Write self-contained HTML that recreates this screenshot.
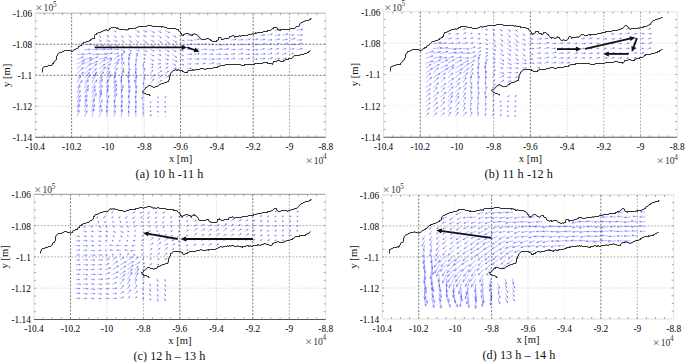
<!DOCTYPE html>
<html><head><meta charset="utf-8"><style>
html,body{margin:0;padding:0;background:#fff;width:685px;height:362px;overflow:hidden}
svg{display:block}
text{font-family:"Liberation Serif",serif}
</style></head><body>
<svg width="685" height="362" viewBox="0 0 685 362">
<rect width="685" height="362" fill="#fff"/>
<line x1="71.61" y1="13.2" x2="71.61" y2="137.3" stroke="#555" stroke-width="0.8" stroke-dasharray="2 1.6"/>
<line x1="107.92" y1="13.2" x2="107.92" y2="137.3" stroke="#d0d0d0" stroke-width="0.8" stroke-dasharray="1.5 1.5"/>
<line x1="144.24" y1="13.2" x2="144.24" y2="137.3" stroke="#d0d0d0" stroke-width="0.8" stroke-dasharray="1.5 1.5"/>
<line x1="180.55" y1="13.2" x2="180.55" y2="137.3" stroke="#555" stroke-width="0.8" stroke-dasharray="2 1.6"/>
<line x1="216.86" y1="13.2" x2="216.86" y2="137.3" stroke="#ececec" stroke-width="0.8" stroke-dasharray="1.5 1.5"/>
<line x1="253.18" y1="13.2" x2="253.18" y2="137.3" stroke="#555" stroke-width="0.8" stroke-dasharray="2 1.6"/>
<line x1="289.49" y1="13.2" x2="289.49" y2="137.3" stroke="#999" stroke-width="0.8" stroke-dasharray="1.8 1.6"/>
<line x1="35.3" y1="44.23" x2="325.8" y2="44.23" stroke="#555" stroke-width="0.8" stroke-dasharray="2 1.6"/>
<line x1="35.3" y1="75.25" x2="325.8" y2="75.25" stroke="#555" stroke-width="0.8" stroke-dasharray="2 1.6"/>
<line x1="35.3" y1="106.28" x2="325.8" y2="106.28" stroke="#d0d0d0" stroke-width="0.8" stroke-dasharray="1.5 1.5"/>
<line x1="35.3" y1="13.2" x2="325.8" y2="13.2" stroke="#ccc" stroke-width="1.6"/>
<line x1="35.3" y1="13.2" x2="35.3" y2="137.3" stroke="#e0e0e0" stroke-width="1"/>
<line x1="325.8" y1="13.2" x2="325.8" y2="137.3" stroke="#e6e6e6" stroke-width="1"/>
<line x1="35.3" y1="137.3" x2="325.8" y2="137.3" stroke="#555" stroke-width="1.1"/>
<path d="M44.38 13.2v2M44.38 137.3v-2M53.46 13.2v2M53.46 137.3v-2M62.53 13.2v2M62.53 137.3v-2M71.61 13.2v2M71.61 137.3v-2M80.69 13.2v2M80.69 137.3v-2M89.77 13.2v2M89.77 137.3v-2M98.85 13.2v2M98.85 137.3v-2M107.92 13.2v2M107.92 137.3v-2M117 13.2v2M117 137.3v-2M126.08 13.2v2M126.08 137.3v-2M135.16 13.2v2M135.16 137.3v-2M144.24 13.2v2M144.24 137.3v-2M153.32 13.2v2M153.32 137.3v-2M162.39 13.2v2M162.39 137.3v-2M171.47 13.2v2M171.47 137.3v-2M180.55 13.2v2M180.55 137.3v-2M189.63 13.2v2M189.63 137.3v-2M198.71 13.2v2M198.71 137.3v-2M207.78 13.2v2M207.78 137.3v-2M216.86 13.2v2M216.86 137.3v-2M225.94 13.2v2M225.94 137.3v-2M235.02 13.2v2M235.02 137.3v-2M244.1 13.2v2M244.1 137.3v-2M253.18 13.2v2M253.18 137.3v-2M262.25 13.2v2M262.25 137.3v-2M271.33 13.2v2M271.33 137.3v-2M280.41 13.2v2M280.41 137.3v-2M289.49 13.2v2M289.49 137.3v-2M298.57 13.2v2M298.57 137.3v-2M307.64 13.2v2M307.64 137.3v-2M316.72 13.2v2M316.72 137.3v-2M35.3 20.96h2M325.8 20.96h-2M35.3 28.71h2M325.8 28.71h-2M35.3 36.47h2M325.8 36.47h-2M35.3 44.23h2M325.8 44.23h-2M35.3 51.98h2M325.8 51.98h-2M35.3 59.74h2M325.8 59.74h-2M35.3 67.49h2M325.8 67.49h-2M35.3 75.25h2M325.8 75.25h-2M35.3 83.01h2M325.8 83.01h-2M35.3 90.76h2M325.8 90.76h-2M35.3 98.52h2M325.8 98.52h-2M35.3 106.28h2M325.8 106.28h-2M35.3 114.03h2M325.8 114.03h-2M35.3 121.79h2M325.8 121.79h-2M35.3 129.54h2M325.8 129.54h-2" stroke="#888" stroke-width="0.75" fill="none"/>
<path d="M77.3 116.4L79.11 110.32M78.12 111.56L79.11 110.32L79.26 111.9M77.3 111.63L79.25 104.61M78.14 106.06L79.25 104.61L79.46 106.42M77.3 106.86L80.17 99.51M78.82 100.94L80.17 99.51L80.19 101.48M77.3 102.09L80.3 95.44M78.98 96.7L80.3 95.44L80.23 97.26M77.3 97.32L80.23 90.63M78.93 91.9L80.23 90.63L80.18 92.45M77.3 92.55L79.87 85.64M78.63 87L79.87 85.64L79.92 87.48M77.3 87.78L82.16 80.45M80.35 81.7L82.16 80.45L81.72 82.61M77.3 83.01L80.65 76.01M79.21 77.32L80.65 76.01L80.53 77.94M77.3 78.24L83.54 72.22M81.53 73.03L83.54 72.22L82.66 74.2M77.3 73.47L83.19 67.54M81.27 68.36L83.19 67.54L82.38 69.46M77.3 68.7L83.89 62.47M81.78 63.29L83.89 62.47L82.94 64.53M77.3 63.93L84.64 59.95M82.57 60.19L84.64 59.95L83.31 61.56M77.3 59.16L83.23 56.98M81.65 56.93L83.23 56.98L82.06 58.04M77.3 54.39L83.85 54.09M82.31 53.54L83.85 54.09L82.36 54.77M84.63 116.4L86.96 110.82M85.9 111.9L86.96 110.82L86.94 112.33M84.63 111.63L87.1 104.69M85.88 106.07L87.1 104.69L87.17 106.53M84.63 106.86L86.73 99.25M85.53 100.82L86.73 99.25L86.95 101.21M84.63 102.09L86.92 95.31M85.76 96.67L86.92 95.31L87.03 97.1M84.63 97.32L88.21 88.86M86.59 90.49L88.21 88.86L88.17 91.16M84.63 92.55L88.33 85.4M86.8 86.71L88.33 85.4L88.14 87.4M84.63 87.78L88.27 79.89M86.69 81.38L88.27 79.89L88.16 82.06M84.63 83.01L89.96 74.97M87.98 76.33L89.96 74.97L89.48 77.33M84.63 78.24L89.34 72.51M87.71 73.4L89.34 72.51L88.79 74.28M84.63 73.47L90.96 68.55M89.03 69.1L90.96 68.55L89.95 70.28M84.63 68.7L90.96 63.46M89 64.08L90.96 63.46L89.98 65.27M84.63 63.93L91.85 59.4M89.76 59.78L91.85 59.4L90.6 61.13M84.63 59.16L91.37 57.74M89.67 57.44L91.37 57.74L89.94 58.7M84.63 54.39L90.59 53.41M89.12 53.08L90.59 53.41L89.3 54.19M84.63 49.62L90.13 49.37M88.83 48.91L90.13 49.37L88.88 49.94M84.63 44.85L91.47 44.4M89.84 43.87L91.47 44.4L89.92 45.15M91.96 116.4L93.93 108.97M92.78 110.51L93.93 108.97L94.17 110.88M91.96 111.63L94.45 104.65M93.22 106.03L94.45 104.65L94.53 106.5M91.96 106.86L94.52 99.33M93.22 100.84L94.52 99.33L94.63 101.32M91.96 102.09L96.31 93.54M94.5 95.12L96.31 93.54L96.1 95.93M91.96 97.32L95.33 89.44M93.81 90.95L95.33 89.44L95.29 91.59M91.96 92.55L95.16 86.06M93.81 87.27L95.16 86.06L95.03 87.87M91.96 87.78L96.94 79.87M95.04 81.24L96.94 79.87L96.52 82.17M91.96 83.01L95.75 73.97M94.02 75.71L95.75 73.97L95.72 76.42M91.96 78.24L96.73 72.08M95.05 73.06L96.73 72.08L96.2 73.96M91.96 73.47L96.36 68.55M94.88 69.28L96.36 68.55L95.8 70.1M91.96 68.7L96.59 63.9M95.07 64.58L96.59 63.9L95.97 65.45M91.96 63.93L97.51 61.42M95.99 61.48L97.51 61.42L96.45 62.52M91.96 59.16L97.68 57.07M96.16 57.02L97.68 57.07L96.55 58.09M91.96 54.39L98.51 54.2M96.97 53.63L98.51 54.2L97.01 54.85M91.96 49.62L97.42 49.39M96.13 48.93L97.42 49.39L96.18 49.96M91.96 44.85L97.81 45.42M96.51 44.74L97.81 45.42L96.4 45.83M99.29 116.4L102.14 109.48M100.83 110.81L102.14 109.48L102.13 111.35M99.29 111.63L100.98 105.51M100.02 106.77L100.98 105.51L101.16 107.09M99.29 106.86L102.19 100.26M100.9 101.52L102.19 100.26L102.13 102.06M99.29 102.09L101.45 92.61M100.06 94.61L101.45 92.61L101.84 95.01M99.29 97.32L101.2 90.08M100.08 91.58L101.2 90.08L101.44 91.94M99.29 92.55L101.97 85.44M100.68 86.84L101.97 85.44L102.01 87.34M99.29 87.78L102.19 79.34M100.73 81.02L102.19 79.34L102.31 81.57M99.29 83.01L102.11 76.58M100.86 77.81L102.11 76.58L102.06 78.34M99.29 78.24L103.46 71.99M101.91 73.05L103.46 71.99L103.08 73.83M99.29 73.47L105.44 67.01M103.41 67.93L105.44 67.01L104.62 69.08M99.29 68.7L104.92 64.04M103.18 64.59L104.92 64.04L104.05 65.65M99.29 63.93L105.15 59.49M103.37 59.97L105.15 59.49L104.21 61.07M99.29 59.16L106.73 57.41M104.84 57.12L106.73 57.41L105.17 58.51M99.29 54.39L106.62 53.87M104.87 53.31L106.62 53.87L104.97 54.68M99.29 49.62L105.12 49.22M103.73 48.77L105.12 49.22L103.8 49.86M99.29 44.85L103.49 45.23M102.56 44.74L103.49 45.23L102.48 45.53M99.29 40.08L101.28 41.26M100.68 40.47L101.28 41.26L100.29 41.11M99.29 35.31L100.44 37.34M100.31 36.34L100.44 37.34L99.66 36.71M106.62 116.4L107.09 110.42M106.42 111.76L107.09 110.42L107.54 111.85M106.62 111.63L107.21 106.3M106.57 107.48L107.21 106.3L107.57 107.59M106.62 106.86L107.81 100.71M106.95 102.02L107.81 100.71L108.11 102.25M106.62 102.09L108.78 95.74M107.69 97.01L108.78 95.74L108.88 97.42M106.62 97.32L107.79 88.89M106.73 90.73L107.79 88.89L108.31 90.95M106.62 92.55L108.35 85.35M107.28 86.85L108.35 85.35L108.63 87.18M106.62 87.78L108.06 79.93M106.99 81.62L108.06 79.93L108.46 81.89M106.62 83.01L110.68 74.63M108.95 76.19L110.68 74.63L110.52 76.96M106.62 78.24L109.78 71.51M108.42 72.77L109.78 71.51L109.68 73.37M106.62 73.47L109.13 67.92M108.03 68.98L109.13 67.92L109.07 69.45M106.62 68.7L110.25 63.55M108.93 64.41L110.25 63.55L109.89 65.09M106.62 63.93L111.74 59.2M110.11 59.82L111.74 59.2L110.99 60.78M106.62 59.16L111.55 58.13M110.31 57.91L111.55 58.13L110.51 58.83M106.62 54.39L112.27 53.11M110.84 52.88L112.27 53.11L111.08 53.94M106.62 49.62L111.99 49M110.69 48.64L111.99 49L110.8 49.65M106.62 44.85L111.08 45.7M110.13 45.09L111.08 45.7L109.97 45.92M106.62 40.08L109.88 41.41M109.17 40.72L109.88 41.41L108.88 41.41M106.62 35.31L108.51 36.71M107.99 35.86L108.51 36.71L107.54 36.46M113.95 116.4L115.31 111.07M114.5 112.18L115.31 111.07L115.49 112.44M113.95 111.63L115.57 105.36M114.61 106.66L115.57 105.36L115.78 106.97M113.95 106.86L114.66 100.25M113.87 101.72L114.66 100.25L115.11 101.85M113.95 102.09L116.75 93.82M115.33 95.48L116.75 93.82L116.87 96M113.95 97.32L116.47 88.72M115.08 90.47L116.47 88.72L116.69 90.95M113.95 92.55L116.47 84.13M115.09 85.85L116.47 84.13L116.67 86.32M113.95 87.78L115.76 80.62M114.67 82.11L115.76 80.62L116.01 82.45M113.95 83.01L115 75.4M114.05 77.06L115 75.4L115.47 77.26M113.95 78.24L115.83 72.43M114.85 73.6L115.83 72.43L115.94 73.95M113.95 73.47L117.18 67.96M115.91 68.93L117.18 67.96L116.95 69.54M113.95 68.7L118.06 62.33M116.51 63.42L118.06 62.33L117.7 64.19M113.95 63.93L119.33 59.53M117.67 60.05L119.33 59.53L118.49 61.05M113.95 59.16L119.06 55.56M117.54 55.92L119.06 55.56L118.21 56.88M113.95 54.39L118.27 53.27M117.16 53.13L118.27 53.27L117.37 53.94M113.95 49.62L118.19 49.4M117.19 49.06L118.19 49.4L117.23 49.85M113.95 44.85L118.01 45.84M117.16 45.23L118.01 45.84L116.97 45.99M113.95 40.08L117.15 41.45M116.44 40.74L117.15 41.45L116.15 41.43M113.95 35.31L116.15 37.32M115.72 36.42L116.15 37.32L115.21 36.97M113.95 30.54L115.8 31.97M115.29 31.11L115.8 31.97L114.83 31.7M121.28 116.4L122.31 109.79M121.45 111.22L122.31 109.79L122.69 111.42M121.28 111.63L121.75 105.13M121.03 106.59L121.75 105.13L122.25 106.68M121.28 106.86L122.3 101.1M121.52 102.34L122.3 101.1L122.6 102.53M121.28 102.09L122.39 95.39M121.51 96.84L122.39 95.39L122.76 97.05M121.28 97.32L121.8 88.75M120.87 90.69L121.8 88.75L122.48 90.78M121.28 92.55L123.02 85.58M121.96 87.03L123.02 85.58L123.27 87.36M121.28 87.78L121.41 79.33M120.59 81.27L121.41 79.33L122.17 81.3M121.28 83.01L121.43 76.27M120.76 77.82L121.43 76.27L122.03 77.84M121.28 78.24L123.71 70.56M122.43 72.11L123.71 70.56L123.87 72.57M121.28 73.47L123.54 68.41M122.54 69.37L123.54 68.41L123.49 69.79M121.28 68.7L123.85 61.97M122.63 63.29L123.85 61.97L123.89 63.77M121.28 63.93L122.71 57.93M121.81 59.19L122.71 57.93L122.94 59.46M121.28 59.16L122.08 54.17M121.43 55.25L122.08 54.17L122.37 55.4M121.28 54.39L124.72 52.24M123.72 52.42L124.72 52.24L124.13 53.06M121.28 49.62L124.45 51.27M123.8 50.51L124.45 51.27L123.46 51.17M121.28 44.85L124.15 46.93M123.62 46.08L124.15 46.93L123.18 46.69M121.28 40.08L123.97 42.12M123.45 41.26L123.97 42.12L123 41.86M121.28 35.31L123.03 37.33M122.7 36.38L123.03 37.33L122.14 36.87M128.61 116.4L128.94 111.34M128.39 112.48L128.94 111.34L129.34 112.54M128.61 111.63L128.7 106.41M128.19 107.61L128.7 106.41L129.16 107.63M128.61 106.86L129.44 101.51M128.75 102.67L129.44 101.51L129.75 102.83M128.61 102.09L128.76 95.52M128.11 97.03L128.76 95.52L129.34 97.05M128.61 97.32L129.71 90.14M128.78 91.7L129.71 90.14L130.12 91.91M128.61 92.55L129.78 85.75M128.87 87.22L129.78 85.75L130.14 87.44M128.61 87.78L129.07 80.2M128.25 81.92L129.07 80.2L129.67 82M128.61 83.01L128.04 75.38M127.46 77.21L128.04 75.38L128.89 77.1M128.61 78.24L128.76 71.66M128.11 73.17L128.76 71.66L129.34 73.2M128.61 73.47L129.75 68.71M129.04 69.7L129.75 68.71L129.93 69.92M128.61 68.7L129.09 63.53M128.5 64.69L129.09 63.53L129.46 64.78M128.61 63.93L129.12 57.49M128.4 58.94L129.12 57.49L129.6 59.03M128.61 59.16L129.59 54.54M128.93 55.52L129.59 54.54L129.79 55.7M128.61 54.39L131.03 52.98M130.04 53.12L131.03 52.98L130.42 53.77M128.61 49.62L131.2 51M130.56 50.24L131.2 51L130.21 50.9M128.61 44.85L131.54 46.52M130.92 45.73L131.54 46.52L130.55 46.38M128.61 40.08L131.67 42M131.09 41.19L131.67 42L130.69 41.82M128.61 35.31L131 37.19M130.5 36.32L131 37.19L130.04 36.91M135.94 116.4L135.58 110.86M135.15 112.17L135.58 110.86L136.19 112.11M135.94 111.63L135.69 106.52M135.27 107.73L135.69 106.52L136.23 107.68M135.94 106.86L135.95 101.36M135.43 102.63L135.95 101.36L136.46 102.63M135.94 102.09L135.33 96.02M134.9 97.48L135.33 96.02L136.04 97.37M135.94 97.32L136.1 91.06M135.48 92.49L136.1 91.06L136.65 92.52M135.94 92.55L136.41 85.7M135.66 87.25L136.41 85.7L136.94 87.33M135.94 87.78L134.8 79.85M134.32 81.79L134.8 79.85L135.8 81.58M135.94 83.01L136.32 75.99M135.57 77.58L136.32 75.99L136.89 77.65M135.94 78.24L135.53 71.51M134.99 73.11L135.53 71.51L136.25 73.03M135.94 73.47L135.95 68.76M135.5 69.85L135.95 68.76L136.38 69.85M135.94 68.7L135.51 64.11M135.18 65.22L135.51 64.11L136.04 65.14M135.94 63.93L136.24 59.35M135.74 60.38L136.24 59.35L136.6 60.44M135.94 59.16L137.36 54.69M136.62 55.6L137.36 54.69L137.45 55.86M135.94 54.39L137.81 53.27M136.82 53.42L137.81 53.27L137.21 54.07M135.94 49.62L139.13 50.67M138.37 50.03L139.13 50.67L138.13 50.74M135.94 44.85L139.17 48.02M138.71 46.98L139.17 48.02L138.12 47.59M135.94 40.08L138.49 42.39M138.05 41.49L138.49 42.39L137.55 42.05M135.94 35.31L138.84 36.86M138.2 36.1L138.84 36.86L137.84 36.76M135.94 30.54L139.22 32.23M138.57 31.47L139.22 32.23L138.22 32.14M143.27 116.4L143.04 112.59M142.72 113.54L143.04 112.59L143.47 113.5M143.27 111.63L142.89 107.5M142.59 108.49L142.89 107.5L143.37 108.42M143.27 106.86L142.91 103.52M142.64 104.48L142.91 103.52L143.38 104.4M143.27 102.09L142.21 97.51M142.03 98.67L142.21 97.51L142.88 98.47M143.27 97.32L142.85 92.36M142.48 93.55L142.85 92.36L143.41 93.47M143.27 87.78L143.4 83M142.93 84.09L143.4 83L143.82 84.12M143.27 83.01L144.72 77.46M143.86 78.61L144.72 77.46L144.9 78.88M143.27 78.24L145.49 74.58M144.64 75.22L145.49 74.58L145.32 75.64M143.27 73.47L144.74 68.36M143.92 69.41L144.74 68.36L144.88 69.68M143.27 68.7L143.16 64.77M142.81 65.71L143.16 64.77L143.56 65.69M143.27 63.93L144.49 61.85M143.7 62.46L144.49 61.85L144.35 62.84M143.27 59.16L145.32 58.47M144.32 58.41L145.32 58.47L144.56 59.12M143.27 54.39L145.82 55.09M145.03 54.48L145.82 55.09L144.83 55.21M143.27 49.62L146.82 51.48M146.17 50.71L146.82 51.48L145.83 51.38M143.27 44.85L145.82 47.52M145.45 46.59L145.82 47.52L144.91 47.11M143.27 40.08L146.44 42.75M145.95 41.84L146.44 42.75L145.45 42.43M143.27 35.31L146.14 36.51M145.43 35.8L146.14 36.51L145.14 36.5M143.27 30.54L146.64 31.86M145.91 31.17L146.64 31.86L145.64 31.87M150.6 116.4L150.93 114.66M150.39 115.5L150.93 114.66L151.12 115.64M150.6 111.63L150.78 110.54M150.26 111.39L150.78 110.54L151 111.51M150.6 106.86L150.61 107.19M150.96 106.25L150.61 107.19L150.21 106.27M150.6 102.09L150.57 102.81M150.98 101.9L150.57 102.81L150.23 101.87M150.6 83.01L153.71 79.1M152.63 79.72L153.71 79.1L153.36 80.3M150.6 78.24L154.63 74.92M153.39 75.31L154.63 74.92L154.01 76.07M150.6 73.47L152.79 70.15M151.97 70.72L152.79 70.15L152.59 71.13M150.6 68.7L152.87 66.7M151.92 67.03L152.87 66.7L152.42 67.6M150.6 63.93L153.31 64.65M152.51 64.05L153.31 64.65L152.32 64.77M150.6 59.16L153.6 60.81M152.97 60.04L153.6 60.81L152.61 60.69M150.6 54.39L153.71 55.81M153.02 55.09L153.71 55.81L152.71 55.77M150.6 49.62L154.11 50.94M153.38 50.27L154.11 50.94L153.11 50.97M150.6 44.85L153.97 46.31M153.27 45.6L153.97 46.31L152.97 46.28M150.6 40.08L153.97 41.55M153.27 40.84L153.97 41.55L152.97 41.53M150.6 35.31L153.89 36.72M153.18 36.01L153.89 36.72L152.89 36.7M150.6 30.54L154.19 32.48M153.54 31.69L154.19 32.48L153.18 32.37M157.93 116.4l0.3 0M157.93 111.63L158.08 112.18M158.19 111.18L158.08 112.18L157.47 111.39M157.93 106.86L158.05 107.54M158.26 106.56L158.05 107.54L157.52 106.7M157.93 102.09L158.07 102.65M158.21 101.66L158.07 102.65L157.48 101.84M157.93 97.32L158.41 96.95M157.45 97.22L158.41 96.95L157.91 97.81M157.93 83.01L161.65 80.22M160.53 80.52L161.65 80.22L161.05 81.21M157.93 78.24L161.48 75.85M160.43 76.07L161.48 75.85L160.88 76.74M157.93 73.47L161.78 70.78M160.64 71.05L161.78 70.78L161.14 71.77M157.93 68.7L160.95 66.9M159.96 67.06L160.95 66.9L160.34 67.7M157.93 63.93L160.57 63.68M159.61 63.39L160.57 63.68L159.68 64.14M157.93 59.16L160.62 60.24M159.9 59.55L160.62 60.24L159.62 60.24M157.93 54.39L161.02 55.24M160.22 54.64L161.02 55.24L160.02 55.36M157.93 49.62L160.63 51.14M160.01 50.36L160.63 51.14L159.64 51.01M157.93 44.85L161.74 47.53M161.11 46.55L161.74 47.53L160.61 47.26M157.93 40.08L161.41 42.4M160.82 41.53L161.41 42.4L160.39 42.19M157.93 35.31L161.29 37.86M160.75 36.96L161.29 37.86L160.27 37.58M157.93 30.54L161.06 32.6M160.49 31.78L161.06 32.6L160.08 32.41M165.26 116.4l0.3 0M165.26 111.63L165.34 112.4M165.62 111.44L165.34 112.4L164.87 111.52M165.26 106.86L165.3 107.39M165.6 106.43L165.3 107.39L164.85 106.49M165.26 102.09L165.6 102.07M164.65 101.76L165.6 102.07L164.7 102.5M165.26 97.32L165.94 96.54M165.05 97L165.94 96.54L165.61 97.49M165.26 78.24L168.88 75.61M167.8 75.88L168.88 75.61L168.29 76.56M165.26 73.47L168.54 71.22M167.56 71.44L168.54 71.22L167.99 72.06M165.26 68.7L168.01 67.09M167.02 67.23L168.01 67.09L167.4 67.88M165.26 63.93L168.16 63.77M167.21 63.45L168.16 63.77L167.25 64.19M165.26 59.16L168.36 59.86M167.53 59.29L168.36 59.86L167.37 60.02M165.26 54.39L168.78 55.86M168.06 55.16L168.78 55.86L167.78 55.85M165.26 49.62L168.97 51.57M168.29 50.77L168.97 51.57L167.93 51.47M165.26 44.85L169.05 47.32M168.4 46.4L169.05 47.32L167.94 47.11M165.26 40.08L168.82 43.23M168.29 42.17L168.82 43.23L167.7 42.84M165.26 35.31L168.83 37.64M168.22 36.76L168.83 37.64L167.78 37.43M165.26 30.54L169.67 32.75M168.86 31.83L169.67 32.75L168.44 32.65M172.59 68.7L176.31 68.05M175.33 67.84L176.31 68.05L175.46 68.58M172.59 63.93L175.52 65M174.78 64.33L175.52 65L174.52 65.04M172.59 59.16L176.83 61.83M176.1 60.81L176.83 61.83L175.6 61.61M172.59 54.39L176.52 57.46M175.89 56.38L176.52 57.46L175.32 57.11M172.59 49.62L175.9 51.56M175.29 50.77L175.9 51.56L174.91 51.41M172.59 44.85L176.17 46.89M175.53 46.08L176.17 46.89L175.15 46.75M172.59 40.08L176.52 42.15M175.8 41.3L176.52 42.15L175.42 42.04M172.59 35.31L176.17 37.28M175.52 36.49L176.17 37.28L175.15 37.16M179.92 63.93L183.72 64.88M182.92 64.29L183.72 64.88L182.73 65.02M179.92 59.16L183.48 60.01M182.67 59.43L183.48 60.01L182.49 60.16M179.92 54.39L183.35 55.64M182.61 54.97L183.35 55.64L182.36 55.67M179.92 49.62L183.28 50.89M182.55 50.21L183.28 50.89L182.28 50.91M179.92 44.85L184.16 45.56M183.24 45L184.16 45.56L183.11 45.79M179.92 40.08L184.24 40.68M183.3 40.14L184.24 40.68L183.18 40.95M179.92 35.31L183.96 35.15M183.01 34.81L183.96 35.15L183.04 35.56M187.25 68.7L191.08 68.44M190.13 68.13L191.08 68.44L190.18 68.87M187.25 63.93L190.93 63.96M190.01 63.58L190.93 63.96L190 64.33M187.25 59.16L191.42 58.89M190.43 58.56L191.42 58.89L190.48 59.35M187.25 54.39L191.88 54.16M190.79 53.78L191.88 54.16L190.83 54.65M187.25 49.62L191.1 49.18M190.13 48.91L191.1 49.18L190.22 49.65M187.25 44.85L192.24 44.07M191.01 43.78L192.24 44.07L191.16 44.72M187.25 40.08L192.24 40.42M191.11 39.87L192.24 40.42L191.05 40.81M187.25 35.31L191.64 34.98M190.59 34.64L191.64 34.98L190.66 35.47M194.58 63.93L198.35 63.71M197.4 63.39L198.35 63.71L197.45 64.14M194.58 59.16L199.05 59M198 58.62L199.05 59L198.03 59.46M194.58 54.39L199.11 53.55M197.98 53.32L199.11 53.55L198.14 54.17M194.58 49.62L198.55 49.04M197.58 48.8L198.55 49.04L197.69 49.55M194.58 44.85L199.61 44.16M198.38 43.85L199.61 44.16L198.51 44.79M194.58 40.08L199.2 39.07M198.04 38.88L199.2 39.07L198.22 39.74M201.91 63.93L205.11 63.23M204.13 63.06L205.11 63.23L204.29 63.8M201.91 59.16L206.24 58.92M205.21 58.57L206.24 58.92L205.26 59.38M201.91 54.39L206.4 53.73M205.29 53.46L206.4 53.73L205.42 54.3M201.91 49.62L206.32 49.23M205.26 48.91L206.32 49.23L205.34 49.73M201.91 44.85L206.25 44.05M205.17 43.83L206.25 44.05L205.32 44.64M209.24 63.93L213.65 62.88M212.53 62.71L213.65 62.88L212.73 63.54M209.24 59.16L214.09 59.21M212.97 58.75L214.09 59.21L212.96 59.66M209.24 54.39L212.79 54.08M211.83 53.78L212.79 54.08L211.9 54.53M209.24 49.62L214.18 50.01M213.07 49.46L214.18 50.01L213 50.38M209.24 44.85L213.65 44.38M212.58 44.08L213.65 44.38L212.67 44.9M216.57 63.93L220.14 63.85M219.21 63.5L220.14 63.85L219.22 64.25M216.57 59.16L220.26 58.83M219.3 58.54L220.26 58.83L219.36 59.29M216.57 54.39L220.38 54.18M219.43 53.86L220.38 54.18L219.47 54.6M216.57 49.62L221.9 48.96M220.6 48.61L221.9 48.96L220.72 49.61M216.57 44.85L221.8 44.82M220.59 44.34L221.8 44.82L220.59 45.32M223.9 59.16L228.32 58.73M227.26 58.41L228.32 58.73L227.34 59.24M223.9 54.39L227.58 54.37M226.65 54L227.58 54.37L226.65 54.75M223.9 49.62L228.29 48.85M227.2 48.61L228.29 48.85L227.35 49.44M223.9 44.85L227.73 44.79M226.8 44.43L227.73 44.79L226.81 45.18M231.23 59.16L234.89 58.32M233.9 58.16L234.89 58.32L234.07 58.89M231.23 54.39L234.52 53.7M233.54 53.53L234.52 53.7L233.69 54.26M231.23 49.62L235.03 49.52M234.09 49.17L235.03 49.52L234.11 49.92M231.23 44.85L234.77 44.83M233.84 44.46L234.77 44.83L233.84 45.21M231.23 40.08L236.08 39.24M234.87 38.98L236.08 39.24L235.03 39.89M238.56 59.16L243.03 58.71M241.95 58.39L243.03 58.71L242.04 59.23M238.56 54.39L243 53.47M241.88 53.26L243 53.47L242.06 54.1M238.56 49.62L242.42 49.02M241.45 48.8L242.42 49.02L241.56 49.54M238.56 44.85L243.49 44.45M242.31 44.08L243.49 44.45L242.38 45M238.56 40.08L242.56 39.6M241.58 39.33L242.56 39.6L241.67 40.08M245.89 59.16L249.5 58.18M248.51 58.06L249.5 58.18L248.71 58.78M245.89 54.39L249.46 54.31M248.53 53.96L249.46 54.31L248.54 54.71M245.89 49.62L249.8 49.72M248.89 49.32L249.8 49.72L248.87 50.07M245.89 44.85L249.72 44.24M248.75 44.02L249.72 44.24L248.86 44.76M245.89 40.08L250.1 39.31M249.05 39.09L250.1 39.31L249.19 39.88M253.22 59.16L257.18 59.12M256.25 58.75L257.18 59.12L256.25 59.5M253.22 54.39L258.01 54.27M256.89 53.85L258.01 54.27L256.91 54.74M253.22 49.62L257.68 49.71M256.65 49.27L257.68 49.71L256.63 50.1M253.22 44.85L258.15 44.47M256.97 44.09L258.15 44.47L257.04 45.02M253.22 40.08L257.71 39.07M256.57 38.88L257.71 39.07L256.76 39.73M260.55 59.16L264.93 58.34M263.84 58.12L264.93 58.34L263.99 58.94M260.55 54.39L265.07 53.89M263.98 53.58L265.07 53.89L264.07 54.43M260.55 49.62L264.32 48.62M263.33 48.5L264.32 48.62L263.52 49.22M260.55 44.85L265.33 43.74M264.12 43.55L265.33 43.74L264.33 44.44M260.55 40.08L264.73 39.36M263.69 39.13L264.73 39.36L263.83 39.92M260.55 35.31L264.54 35.03M263.58 34.72L264.54 35.03L263.64 35.47M267.88 59.16L272.37 57.82M271.2 57.71L272.37 57.82L271.45 58.55M267.88 54.39L272.01 53.25M270.94 53.12L272.01 53.25L271.16 53.9M267.88 49.62L272.04 48.66M270.98 48.49L272.04 48.66L271.16 49.27M267.88 44.85L271.56 43.8M270.57 43.7L271.56 43.8L270.77 44.42M267.88 40.08L271.86 39.83M270.91 39.52L271.86 39.83L270.96 40.26M267.88 35.31L272.23 34.19M271.11 34.04L272.23 34.19L271.32 34.86M275.21 59.16L279.61 58.66M278.55 58.36L279.61 58.66L278.64 59.19M275.21 54.39L278.79 53.08M277.79 53.04L278.79 53.08L278.05 53.75M275.21 49.62L278.63 48.4M277.63 48.36L278.63 48.4L277.88 49.06M275.21 44.85L279.26 43.57M278.2 43.49L279.26 43.57L278.44 44.25M275.21 40.08L279.32 39.05M278.27 38.9L279.32 39.05L278.46 39.67M275.21 35.31L279.99 34.98M278.85 34.61L279.99 34.98L278.91 35.5M275.21 30.54L280.14 29.52M278.9 29.29L280.14 29.52L279.09 30.22M282.54 59.16L286.16 58.24M285.17 58.11L286.16 58.24L285.35 58.83M282.54 54.39L286.06 53.3M285.06 53.22L286.06 53.3L285.28 53.93M282.54 49.62L285.81 48.62M284.82 48.54L285.81 48.62L285.03 49.25M282.54 44.85L287.62 43.31M286.3 43.19L287.62 43.31L286.59 44.15M282.54 40.08L287.2 39.42M286.06 39.13L287.2 39.42L286.19 40.01M282.54 35.31L287.68 33.96M286.36 33.79L287.68 33.96L286.61 34.75M289.87 54.39L293.4 53.27M292.41 53.19L293.4 53.27L292.63 53.91M289.87 49.62L293.84 48.68M292.83 48.53L293.84 48.68L293.01 49.27M289.87 44.85L295.06 44.34M293.81 43.98L295.06 44.34L293.91 44.95M289.87 40.08L294.86 38.44M293.55 38.36L294.86 38.44L293.85 39.29M289.87 35.31L293.73 34.84M292.77 34.58L293.73 34.84L292.86 35.32M297.2 49.62L302.17 48.58M300.92 48.35L302.17 48.58L301.11 49.28M297.2 44.85L301.71 43.33M300.52 43.26L301.71 43.33L300.81 44.11M297.2 40.08L301.72 39.82M300.65 39.45L301.72 39.82L300.7 40.3M297.2 35.31L302.47 34.91M301.21 34.51L302.47 34.91L301.29 35.49M297.2 30.54L302.56 29.19M301.19 29L302.56 29.19L301.45 30.01" stroke="#0a0aff" stroke-width="0.5" stroke-opacity="0.6" fill="none" stroke-linecap="round"/>
<polyline points="42.5,72.5 42.5,70.5 42.5,69.5 42.5,68.5 43.5,67.5 44.5,66.5 45.5,66.5 46.5,66.5 47.5,66.5 48.5,65.5 49.5,65.5 50.5,65.5 51.5,65.5 52.5,64.5 52.5,63.5 53.5,63.5 53.5,62.5 54.5,61.5 55.5,60.5 56.5,59.5 56.5,58.5 56.5,57.5 56.5,56.5 57.5,55.5 57.5,54.5 58.5,53.5 59.5,52.5 60.5,52.5 61.5,52.5 62.5,51.5 63.5,51.5 64.5,50.5 65.5,50.5 66.5,50.5 67.5,50.5 68.5,50.5 69.5,50.5 70.5,50.5 71.5,51.5 72.5,51.5 73.5,50.5 74.5,49.5 75.5,49.5 76.5,48.5 77.5,48.5 78.5,47.5 78.5,46.5 79.5,46.5 80.5,45.5 81.5,45.5 81.5,44.5 82.5,43.5 83.5,43.5 83.5,42.5 84.5,42.5 85.5,42.5 86.5,41.5 87.5,41.5 88.5,41.5 89.5,40.5 90.5,40.5 90.5,39.5 91.5,39.5 92.5,38.5 93.5,38.5 94.5,38.5 94.5,37.5 94.5,36.5 94.5,35.5 95.5,34.5 96.5,34.5 96.5,33.5 97.5,33.5 98.5,32.5 99.5,32.5 100.5,32.5 101.5,31.5 102.5,31.5 103.5,30.5 104.5,30.5 106.5,29.5 107.5,30.5 108.5,30.5 109.5,29.5 109.5,28.5 110.5,28.5 111.5,27.5 112.5,27.5 113.5,27.5 114.5,27.5 115.5,27.5 116.5,28.5 117.5,27.5 117.5,28.5 118.5,28.5 119.5,29.5 120.5,29.5 121.5,29.5 122.5,29.5 123.5,29.5 124.5,29.5 125.5,29.5 126.5,30.5 127.5,29.5 128.5,29.5 128.5,28.5 129.5,28.5 130.5,28.5 131.5,28.5 132.5,28.5 133.5,28.5 134.5,28.5 135.5,28.5 136.5,27.5 137.5,27.5 138.5,26.5 139.5,26.5 140.5,26.5 141.5,26.5 142.5,26.5 143.5,26.5 144.5,26.5 145.5,26.5 146.5,26.5 147.5,25.5 148.5,25.5 149.5,25.5 150.5,25.5 151.5,25.5 152.5,26.5 153.5,26.5 154.5,26.5 155.5,26.5 156.5,26.5 157.5,26.5 158.5,26.5 159.5,26.5 160.5,26.5 161.5,26.5 161.5,27.5 162.5,26.5 163.5,26.5 164.5,27.5 165.5,27.5 166.5,27.5 167.5,28.5 168.5,28.5 169.5,28.5 170.5,28.5 171.5,28.5 172.5,28.5 173.5,28.5 174.5,28.5 175.5,28.5 176.5,29.5 177.5,29.5 178.5,29.5 178.5,30.5 179.5,31.5 180.5,32.5 180.5,33.5 181.5,33.5 181.5,34.5 182.5,35.5 183.5,35.5 183.5,34.5 184.5,34.5 185.5,33.5 187.5,33.5 188.5,33.5 189.5,34.5 190.5,34.5 191.5,35.5 192.5,35.5 192.5,34.5 193.5,34.5 194.5,33.5 195.5,34.5 196.5,34.5 197.5,35.5 198.5,36.5 199.5,37.5 200.5,38.5 201.5,39.5 202.5,39.5 203.5,39.5 204.5,39.5 205.5,39.5 206.5,38.5 207.5,38.5 208.5,38.5 209.5,39.5 210.5,39.5 210.5,40.5 211.5,40.5 212.5,41.5 213.5,41.5 214.5,41.5 215.5,41.5 216.5,41.5 216.5,40.5 217.5,40.5 218.5,39.5 218.5,38.5 218.5,37.5 219.5,37.5 220.5,37.5 221.5,38.5 221.5,39.5 222.5,39.5 223.5,39.5 224.5,38.5 225.5,38.5 226.5,38.5 227.5,38.5 228.5,38.5 229.5,37.5 229.5,36.5 230.5,36.5 231.5,36.5 232.5,35.5 233.5,35.5 234.5,36.5 234.5,37.5 235.5,36.5 237.5,36.5 238.5,36.5 239.5,35.5 240.5,36.5 241.5,35.5 242.5,35.5 243.5,35.5 244.5,35.5 245.5,35.5 246.5,35.5 247.5,35.5 248.5,34.5 249.5,34.5 250.5,34.5 251.5,34.5 252.5,33.5 253.5,34.5 254.5,33.5 255.5,33.5 255.5,32.5 256.5,33.5 257.5,32.5 258.5,32.5 259.5,32.5 260.5,32.5 261.5,32.5 262.5,32.5 263.5,31.5 264.5,31.5 265.5,31.5 266.5,31.5 267.5,31.5 267.5,30.5 268.5,30.5 269.5,30.5 270.5,30.5 271.5,29.5 272.5,28.5 273.5,28.5 273.5,27.5 274.5,27.5 275.5,27.5 276.5,27.5 277.5,28.5 277.5,29.5 278.5,29.5 279.5,30.5 280.5,30.5 280.5,29.5 282.5,29.5 283.5,29.5 284.5,29.5 285.5,29.5 286.5,29.5 287.5,29.5 288.5,29.5 289.5,29.5 290.5,28.5 291.5,28.5 292.5,28.5 293.5,28.5 294.5,28.5 295.5,27.5 296.5,26.5 297.5,26.5 298.5,26.5 299.5,25.5 299.5,24.5 300.5,23.5 301.5,22.5 302.5,22.5 303.5,21.5 304.5,21.5 305.5,20.5 306.5,20.5 307.5,20.5 308.5,20.5 309.5,19.5 310.5,19.5 310.5,18.5 311.5,18.5" stroke="#303030" stroke-width="1.05" fill="none" stroke-linejoin="round"/>
<polyline points="150.5,95.5 149.5,95.5 149.5,94.5 147.5,94.5 146.5,94.5 145.5,93.5 144.5,93.5 143.5,92.5 142.5,91.5 143.5,90.5 144.5,89.5 145.5,88.5 145.5,87.5 146.5,87.5 147.5,86.5 148.5,85.5 149.5,85.5 150.5,85.5 151.5,86.5 152.5,86.5 153.5,87.5 154.5,87.5 155.5,86.5 156.5,86.5 157.5,86.5 158.5,85.5 159.5,84.5 160.5,84.5 161.5,83.5 162.5,83.5 163.5,83.5 164.5,82.5 165.5,82.5 166.5,82.5 167.5,81.5 168.5,81.5 168.5,80.5 169.5,79.5 169.5,78.5 169.5,77.5 169.5,76.5 170.5,75.5 170.5,74.5 170.5,73.5 171.5,72.5 172.5,71.5 173.5,70.5 174.5,70.5 175.5,69.5 176.5,70.5 177.5,69.5 177.5,70.5 178.5,69.5 179.5,70.5 180.5,70.5 181.5,70.5 182.5,70.5 182.5,71.5 183.5,71.5 184.5,72.5 185.5,72.5 186.5,72.5 187.5,72.5 187.5,71.5 188.5,70.5 189.5,70.5 190.5,70.5 191.5,70.5 192.5,69.5 192.5,70.5 193.5,69.5 194.5,70.5 195.5,69.5 196.5,69.5 197.5,69.5 198.5,69.5 199.5,69.5 200.5,68.5 201.5,68.5 202.5,68.5 203.5,68.5 204.5,69.5 205.5,69.5 206.5,68.5 207.5,68.5 208.5,68.5 209.5,68.5 210.5,68.5 211.5,68.5 212.5,68.5 213.5,67.5 214.5,67.5 215.5,67.5 216.5,67.5 217.5,67.5 217.5,66.5 218.5,66.5 219.5,66.5 220.5,65.5 221.5,65.5 222.5,65.5 223.5,65.5 224.5,65.5 225.5,64.5 226.5,64.5 227.5,64.5 228.5,64.5 229.5,64.5 230.5,64.5 231.5,64.5 232.5,64.5 233.5,64.5 234.5,64.5 235.5,64.5 236.5,64.5 237.5,64.5 238.5,64.5 239.5,64.5 240.5,64.5 241.5,65.5 242.5,65.5 243.5,65.5 244.5,65.5 244.5,64.5 245.5,64.5 246.5,64.5 247.5,64.5 248.5,64.5 249.5,64.5 250.5,64.5 251.5,64.5 252.5,64.5 253.5,64.5 254.5,64.5 254.5,63.5 255.5,63.5 256.5,63.5 257.5,63.5 258.5,63.5 259.5,63.5 260.5,63.5 261.5,63.5 262.5,63.5 263.5,62.5 264.5,62.5 265.5,62.5 266.5,62.5 267.5,62.5 267.5,63.5 268.5,63.5 269.5,63.5 270.5,63.5 271.5,63.5 272.5,64.5 272.5,63.5 273.5,62.5 273.5,61.5 274.5,61.5 275.5,61.5 276.5,61.5 277.5,60.5 278.5,60.5 279.5,60.5 280.5,61.5 281.5,61.5 283.5,61.5 283.5,60.5 284.5,60.5 285.5,59.5 286.5,59.5 287.5,59.5 288.5,59.5 288.5,58.5 289.5,58.5 290.5,58.5 291.5,58.5 292.5,57.5 293.5,56.5 294.5,55.5 295.5,55.5 296.5,55.5 297.5,55.5 298.5,55.5 299.5,55.5 300.5,54.5 301.5,54.5 302.5,54.5 303.5,54.5 304.5,53.5 305.5,53.5 306.5,53.5 307.5,52.5 308.5,52.5 308.5,51.5 309.5,51.5 310.5,50.5" stroke="#303030" stroke-width="1.05" fill="none" stroke-linejoin="round"/>
<path d="M94.7 47.4L182.7 47.4" stroke="#111" stroke-width="1.8" fill="none"/><path d="M187.2 47.4L181.7 49.9L181.7 44.9Z" fill="#111"/>
<path d="M187.2 47.4L195.35 50.23" stroke="#111" stroke-width="1.8" fill="none"/><path d="M199.6 51.7L193.58 52.26L195.22 47.54Z" fill="#111"/>
<text x="32.1" y="17.1" text-anchor="end" font-size="9.3" fill="#000">-1.06</text>
<text x="32.1" y="48.12" text-anchor="end" font-size="9.3" fill="#000">-1.08</text>
<text x="32.1" y="79.15" text-anchor="end" font-size="9.3" fill="#000">-1.1</text>
<text x="32.1" y="110.18" text-anchor="end" font-size="9.3" fill="#000">-1.12</text>
<text x="32.1" y="141.2" text-anchor="end" font-size="9.3" fill="#000">-1.14</text>
<text x="35.3" y="149.8" text-anchor="middle" font-size="9.3" fill="#000">-10.4</text>
<text x="71.61" y="149.8" text-anchor="middle" font-size="9.3" fill="#000">-10.2</text>
<text x="107.92" y="149.8" text-anchor="middle" font-size="9.3" fill="#000">-10</text>
<text x="144.24" y="149.8" text-anchor="middle" font-size="9.3" fill="#000">-9.8</text>
<text x="180.55" y="149.8" text-anchor="middle" font-size="9.3" fill="#000">-9.6</text>
<text x="216.86" y="149.8" text-anchor="middle" font-size="9.3" fill="#000">-9.4</text>
<text x="253.18" y="149.8" text-anchor="middle" font-size="9.3" fill="#000">-9.2</text>
<text x="289.49" y="149.8" text-anchor="middle" font-size="9.3" fill="#000">-9</text>
<text x="325.8" y="149.8" text-anchor="middle" font-size="9.3" fill="#000">-8.8</text>
<text x="180.55" y="161.7" text-anchor="middle" font-size="10.6" fill="#111">x [m]</text>
<text transform="translate(9.5 75.25) rotate(-90)" text-anchor="middle" font-size="10.6" fill="#111">y [m]</text>
<text x="35.3" y="12.2" font-size="13" fill="#666">×</text><text x="43.6" y="10.8" font-size="9.6" fill="#333">10</text><text x="52.9" y="6.5" font-size="7.2" fill="#333">5</text>
<text x="305.5" y="165.1" font-size="13" fill="#666">×</text><text x="313.8" y="163.7" font-size="9.6" fill="#333">10</text><text x="323.1" y="159.4" font-size="7.2" fill="#333">4</text>
<text x="135.6" y="177.7" font-size="12.2" fill="#111" textLength="67.8" lengthAdjust="spacing">(a) 10 h -11 h</text>
<line x1="420.3" y1="11.7" x2="420.3" y2="137.3" stroke="#555" stroke-width="0.8" stroke-dasharray="2 1.6"/>
<line x1="457" y1="11.7" x2="457" y2="137.3" stroke="#ececec" stroke-width="0.8" stroke-dasharray="1.5 1.5"/>
<line x1="493.7" y1="11.7" x2="493.7" y2="137.3" stroke="#999" stroke-width="0.8" stroke-dasharray="1.8 1.6"/>
<line x1="530.4" y1="11.7" x2="530.4" y2="137.3" stroke="#555" stroke-width="0.8" stroke-dasharray="2 1.6"/>
<line x1="567.1" y1="11.7" x2="567.1" y2="137.3" stroke="#d0d0d0" stroke-width="0.8" stroke-dasharray="1.5 1.5"/>
<line x1="603.8" y1="11.7" x2="603.8" y2="137.3" stroke="#999" stroke-width="0.8" stroke-dasharray="1.8 1.6"/>
<line x1="640.5" y1="11.7" x2="640.5" y2="137.3" stroke="#999" stroke-width="0.8" stroke-dasharray="1.8 1.6"/>
<line x1="383.6" y1="43.1" x2="677.2" y2="43.1" stroke="#d0d0d0" stroke-width="0.8" stroke-dasharray="1.5 1.5"/>
<line x1="383.6" y1="74.5" x2="677.2" y2="74.5" stroke="#ececec" stroke-width="0.8" stroke-dasharray="1.5 1.5"/>
<line x1="383.6" y1="105.9" x2="677.2" y2="105.9" stroke="#ececec" stroke-width="0.8" stroke-dasharray="1.5 1.5"/>
<line x1="383.6" y1="11.7" x2="677.2" y2="11.7" stroke="#e4e4e4" stroke-width="1"/>
<line x1="383.6" y1="11.7" x2="383.6" y2="137.3" stroke="#e0e0e0" stroke-width="1"/>
<line x1="677.2" y1="11.7" x2="677.2" y2="137.3" stroke="#e6e6e6" stroke-width="1"/>
<line x1="383.6" y1="137.3" x2="677.2" y2="137.3" stroke="#555" stroke-width="1.1"/>
<path d="M392.78 11.7v2M392.78 137.3v-2M401.95 11.7v2M401.95 137.3v-2M411.12 11.7v2M411.12 137.3v-2M420.3 11.7v2M420.3 137.3v-2M429.48 11.7v2M429.48 137.3v-2M438.65 11.7v2M438.65 137.3v-2M447.83 11.7v2M447.83 137.3v-2M457 11.7v2M457 137.3v-2M466.18 11.7v2M466.18 137.3v-2M475.35 11.7v2M475.35 137.3v-2M484.53 11.7v2M484.53 137.3v-2M493.7 11.7v2M493.7 137.3v-2M502.88 11.7v2M502.88 137.3v-2M512.05 11.7v2M512.05 137.3v-2M521.23 11.7v2M521.23 137.3v-2M530.4 11.7v2M530.4 137.3v-2M539.58 11.7v2M539.58 137.3v-2M548.75 11.7v2M548.75 137.3v-2M557.93 11.7v2M557.93 137.3v-2M567.1 11.7v2M567.1 137.3v-2M576.28 11.7v2M576.28 137.3v-2M585.45 11.7v2M585.45 137.3v-2M594.62 11.7v2M594.62 137.3v-2M603.8 11.7v2M603.8 137.3v-2M612.98 11.7v2M612.98 137.3v-2M622.15 11.7v2M622.15 137.3v-2M631.33 11.7v2M631.33 137.3v-2M640.5 11.7v2M640.5 137.3v-2M649.68 11.7v2M649.68 137.3v-2M658.85 11.7v2M658.85 137.3v-2M668.03 11.7v2M668.03 137.3v-2M383.6 19.55h2M677.2 19.55h-2M383.6 27.4h2M677.2 27.4h-2M383.6 35.25h2M677.2 35.25h-2M383.6 43.1h2M677.2 43.1h-2M383.6 50.95h2M677.2 50.95h-2M383.6 58.8h2M677.2 58.8h-2M383.6 66.65h2M677.2 66.65h-2M383.6 74.5h2M677.2 74.5h-2M383.6 82.35h2M677.2 82.35h-2M383.6 90.2h2M677.2 90.2h-2M383.6 98.05h2M677.2 98.05h-2M383.6 105.9h2M677.2 105.9h-2M383.6 113.75h2M677.2 113.75h-2M383.6 121.6h2M677.2 121.6h-2M383.6 129.45h2M677.2 129.45h-2" stroke="#888" stroke-width="0.75" fill="none"/>
<path d="M426.05 116.15L428.68 112.93M427.77 113.43L428.68 112.93L428.37 113.93M426.05 111.32L429.63 108.08M428.5 108.49L429.63 108.08L429.11 109.16M426.05 106.49L430.25 102.78M428.93 103.25L430.25 102.78L429.62 104.03M426.05 101.66L430.13 98.18M428.85 98.6L430.13 98.18L429.51 99.37M426.05 96.84L430.08 93.11M428.79 93.59L430.08 93.11L429.49 94.35M426.05 92.01L430.12 88.94M428.89 89.27L430.12 88.94L429.47 90.03M426.05 87.18L431.1 83.92M429.62 84.21L431.1 83.92L430.23 85.15M426.05 82.35L431.64 77.36M429.87 77.99L431.64 77.36L430.81 79.04M426.05 77.53L430.76 73.16M429.26 73.73L430.76 73.16L430.08 74.61M426.05 72.7L432.45 68.24M430.55 68.68L432.45 68.24L431.38 69.87M426.05 67.87L431.01 64.14M429.51 64.54L431.01 64.14L430.21 65.47M426.05 63.04L433.15 60.95M431.3 60.77L433.15 60.95L431.7 62.1M426.05 58.22L432.82 55.93M431.03 55.83L432.82 55.93L431.46 57.1M426.05 53.39L433.41 51.37M431.52 51.15L433.41 51.37L431.89 52.53M433.46 116.15L436.6 112.85M435.56 113.32L436.6 112.85L436.18 113.91M433.46 111.32L437.61 107.42M436.28 107.94L437.61 107.42L437.01 108.72M433.46 106.49L437.43 102.35M436.12 102.94L437.43 102.35L436.9 103.68M433.46 101.66L436.64 97.78M435.54 98.39L436.64 97.78L436.26 98.98M433.46 96.84L438.55 92.08M436.92 92.7L438.55 92.08L437.81 93.66M433.46 92.01L437.08 87.39M435.8 88.12L437.08 87.39L436.67 88.8M433.46 87.18L438.67 82.95M437.07 83.44L438.67 82.95L437.86 84.42M433.46 82.35L438.4 77.55M436.8 78.2L438.4 77.55L437.7 79.12M433.46 77.53L440 73.36M438.09 73.72L440 73.36L438.87 74.94M433.46 72.7L438.13 68.03M436.61 68.67L438.13 68.03L437.48 69.55M433.46 67.87L439.17 64.4M437.52 64.67L439.17 64.4L438.17 65.74M433.46 63.04L440.47 59.98M438.56 60.03L440.47 59.98L439.13 61.35M433.46 58.22L441.4 56.77M439.42 56.36L441.4 56.77L439.69 57.85M433.46 53.39L440.51 51.78M438.72 51.49L440.51 51.78L439.02 52.82M433.46 48.56L441.84 47.61M439.81 47.04L441.84 47.61L439.99 48.62M433.46 43.73L441.03 42.66M439.18 42.2L441.03 42.66L439.38 43.62M440.86 116.15L444.19 112.91M443.12 113.35L444.19 112.91L443.73 113.98M440.86 111.32L444.67 107.99M443.48 108.41L444.67 107.99L444.1 109.12M440.86 106.49L444.38 101.65M443.11 102.44L444.38 101.65L444.02 103.1M440.86 101.66L444.52 97.18M443.25 97.87L444.52 97.18L444.09 98.56M440.86 96.84L445.96 92.24M444.35 92.83L445.96 92.24L445.21 93.78M440.86 92.01L444.6 87.75M443.33 88.39L444.6 87.75L444.13 89.09M440.86 87.18L445.83 83.49M444.33 83.88L445.83 83.49L445.02 84.81M440.86 82.35L444.88 77.4M443.49 78.17L444.88 77.4L444.41 78.92M440.86 77.53L445.26 73.14M443.83 73.74L445.26 73.14L444.65 74.57M440.86 72.7L447.64 68.28M445.65 68.67L447.64 68.28L446.48 69.94M440.86 67.87L447.57 65.01M445.75 65.05L447.57 65.01L446.28 66.3M440.86 63.04L447.81 59.91M445.9 59.99L447.81 59.91L446.49 61.29M440.86 58.22L446.7 57.53M445.29 57.14L446.7 57.53L445.42 58.23M440.86 53.39L447.86 51.47M446.06 51.26L447.86 51.47L446.42 52.57M440.86 48.56L447.68 47.71M446.02 47.27L447.68 47.71L446.18 48.54M440.86 43.73L446.1 42.94M444.81 42.63L446.1 42.94L444.96 43.61M448.27 116.15L450.47 112.31M449.6 113L450.47 112.31L450.32 113.41M448.27 111.32L451.12 107.38M450.09 108.03L451.12 107.38L450.83 108.56M448.27 106.49L451.96 100.85M450.58 101.81L451.96 100.85L451.64 102.5M448.27 101.66L452.51 95.67M450.97 96.67L452.51 95.67L452.09 97.46M448.27 96.84L452.59 92.61M451.19 93.18L452.59 92.61L451.99 93.99M448.27 92.01L452.93 86.7M451.35 87.49L452.93 86.7L452.35 88.36M448.27 87.18L452.23 83.19M450.94 83.75L452.23 83.19L451.68 84.49M448.27 82.35L453.72 78.23M452.07 78.68L453.72 78.23L452.84 79.7M448.27 77.53L452.81 72.98M451.34 73.61L452.81 72.98L452.19 74.46M448.27 72.7L453.75 67.03M451.95 67.83L453.75 67.03L453.01 68.86M448.27 67.87L453.97 65.06M452.39 65.17L453.97 65.06L452.92 66.24M448.27 63.04L454.31 59.67M452.6 59.88L454.31 59.67L453.23 61.01M448.27 58.22L453.36 56.58M452.03 56.48L453.36 56.58L452.33 57.43M448.27 53.39L456.17 52.4M454.24 51.89L456.17 52.4L454.43 53.37M448.27 48.56L455.96 49.24M454.24 48.36L455.96 49.24L454.11 49.8M448.27 43.73L453.32 43.05M452.09 42.74L453.32 43.05L452.22 43.68M448.27 38.9L451.32 38.28M450.33 38.1L451.32 38.28L450.48 38.83M448.27 34.08L450.36 33.6M449.37 33.44L450.36 33.6L449.54 34.17M455.68 116.15L457.97 112.37M457.08 113.03L457.97 112.37L457.79 113.46M455.68 111.32L458.16 108.27M457.28 108.75L458.16 108.27L457.86 109.23M455.68 106.49L459.08 102.06M457.88 102.77L459.08 102.06L458.71 103.41M455.68 101.66L458.58 96.43M457.42 97.37L458.58 96.43L458.4 97.92M455.68 96.84L458.71 92.94M457.64 93.56L458.71 92.94L458.38 94.12M455.68 92.01L460.51 87.59M458.98 88.16L460.51 87.59L459.81 89.06M455.68 87.18L459.26 82.82M458.02 83.49L459.26 82.82L458.84 84.16M455.68 82.35L460.12 78.21M458.7 78.75L460.12 78.21L459.48 79.59M455.68 77.53L461.18 72.28M459.41 72.98L461.18 72.28L460.4 74.01M455.68 72.7L462.33 68.67M460.41 68.98L462.33 68.67L461.17 70.23M455.68 67.87L462.6 64.12M460.65 64.34L462.6 64.12L461.35 65.63M455.68 63.04L461.66 60.04M459.99 60.17L461.66 60.04L460.56 61.29M455.68 58.22L461.38 57.11M459.95 56.83L461.38 57.11L460.16 57.9M455.68 53.39L462.58 52.28M460.88 51.89L462.58 52.28L461.09 53.18M455.68 48.56L461.22 48.7M459.95 48.15L461.22 48.7L459.92 49.19M455.68 43.73L460.18 42.75M459.04 42.56L460.18 42.75L459.23 43.4M455.68 38.9L458.5 38.41M457.52 38.2L458.5 38.41L457.65 38.94M455.68 34.08L458.35 33.78M457.38 33.51L458.35 33.78L457.47 34.26M463.09 116.15L466.3 112.19M465.18 112.8L466.3 112.19L465.93 113.41M463.09 111.32L464.97 107.53M464.18 108.23L464.97 107.53L464.89 108.58M463.09 106.49L465.24 103.16M464.42 103.73L465.24 103.16L465.05 104.14M463.09 101.66L465.62 97.36M464.63 98.12L465.62 97.36L465.43 98.6M463.09 96.84L465.18 93.08M464.34 93.76L465.18 93.08L465.05 94.15M463.09 92.01L465.9 87.75M464.85 88.47L465.9 87.75L465.65 89M463.09 87.18L466.49 82.84M465.3 83.53L466.49 82.84L466.11 84.17M463.09 82.35L466.11 77.57M464.96 78.4L466.11 77.57L465.85 78.96M463.09 77.53L467.68 72.74M466.17 73.42L467.68 72.74L467.07 74.28M463.09 72.7L468.39 68.47M466.76 68.96L468.39 68.47L467.56 69.95M463.09 67.87L468.85 63.46M467.1 63.94L468.85 63.46L467.93 65.02M463.09 63.04L468.21 60.73M466.8 60.79L468.21 60.73L467.24 61.75M463.09 58.22L468.53 58.03M467.25 57.57L468.53 58.03L467.28 58.58M463.09 53.39L469.51 52.96M467.98 52.46L469.51 52.96L468.06 53.66M463.09 48.56L468.54 49.02M467.32 48.4L468.54 49.02L467.23 49.42M463.09 43.73L467.17 42.75M466.13 42.6L467.17 42.75L466.31 43.36M463.09 38.9L466.19 38.12M465.2 37.98L466.19 38.12L465.38 38.71M463.09 34.08L465.79 32.77M464.79 32.84L465.79 32.77L465.11 33.51M463.09 29.25L465.67 28.68M464.68 28.52L465.67 28.68L464.84 29.25M470.5 116.15L471.96 112.09M471.24 112.9L471.96 112.09L472 113.17M470.5 111.32L471 108.11M470.49 108.97L471 108.11L471.23 109.08M470.5 106.49L471.11 103.07M470.58 103.91L471.11 103.07L471.32 104.05M470.5 101.66L472.08 96.93M471.27 97.88L472.08 96.93L472.16 98.18M470.5 96.84L471.84 91.8M471.05 92.84L471.84 91.8L472 93.09M470.5 92.01L471.78 86.73M470.99 87.84L471.78 86.73L471.98 88.08M470.5 87.18L471.75 82.72M471.05 83.64L471.75 82.72L471.88 83.87M470.5 82.35L471.22 76.47M470.5 77.77L471.22 76.47L471.61 77.91M470.5 77.53L472.72 72.8M471.77 73.69L472.72 72.8L472.65 74.11M470.5 72.7L472.85 68.73M471.93 69.43L472.85 68.73L472.68 69.87M470.5 67.87L472.93 64.16M472.02 64.79L472.93 64.16L472.72 65.25M470.5 63.04L474.38 60.42M473.23 60.66L474.38 60.42L473.72 61.39M470.5 58.22L475.92 55.79M474.43 55.84L475.92 55.79L474.89 56.86M470.5 53.39L474.72 52.01M473.61 51.93L474.72 52.01L473.87 52.72M470.5 48.56L475.08 47.04M473.87 46.96L475.08 47.04L474.16 47.82M470.5 43.73L473.18 42.68M472.18 42.67L473.18 42.68L472.45 43.37M470.5 38.9L472.69 37.94M471.69 37.97L472.69 37.94L471.99 38.66M470.5 34.08L472 33.16M471.02 33.33L472 33.16L471.4 33.97M477.91 116.15L478.21 112.59M477.75 113.48L478.21 112.59L478.5 113.54M477.91 111.32L477.6 107.36M477.3 108.31L477.6 107.36L478.05 108.25M477.91 106.49L478.39 103.01M477.89 103.88L478.39 103.01L478.63 103.98M477.91 101.66L478.08 97.19M477.62 98.21L478.08 97.19L478.46 98.24M477.91 96.84L478.97 92.45M478.31 93.37L478.97 92.45L479.13 93.57M477.91 92.01L478.56 87.42M477.98 88.42L478.56 87.42L478.84 88.54M477.91 87.18L478.09 82.07M477.57 83.23L478.09 82.07L478.52 83.27M477.91 82.35L479.11 76.28M478.26 77.57L479.11 76.28L479.4 77.8M477.91 77.53L478.15 72.34M477.6 73.52L478.15 72.34L478.58 73.57M477.91 72.7L478.42 66.74M477.75 68.08L478.42 66.74L478.86 68.17M477.91 67.87L479.1 63.3M478.4 64.25L479.1 63.3L479.25 64.47M477.91 63.04L479.13 57.5M478.33 58.67L479.13 57.5L479.37 58.9M477.91 58.22L480.23 54.28M479.32 54.98L480.23 54.28L480.06 55.41M477.91 53.39L480.73 50.75M479.79 51.11L480.73 50.75L480.31 51.66M477.91 48.56L480.59 47.67M479.59 47.6L480.59 47.67L479.83 48.31M477.91 43.73L480.9 43.55M479.95 43.23L480.9 43.55L480 43.98M477.91 38.9L479.94 38.71M478.98 38.42L479.94 38.71L479.05 39.17M477.91 34.08L480.01 33.9M479.05 33.6L480.01 33.9L479.12 34.35M485.31 116.15L485.7 113.45M485.19 114.32L485.7 113.45L485.94 114.42M485.31 111.32L486.27 108.2M485.64 108.97L486.27 108.2L486.35 109.19M485.31 106.49L485.73 103.19M485.24 104.06L485.73 103.19L485.98 104.15M485.31 101.66L486.3 96.22M485.56 97.39L486.3 96.22L486.58 97.57M485.31 96.84L485.1 92.33M484.73 93.4L485.1 92.33L485.57 93.36M485.31 92.01L486.84 86.95M486.01 87.98L486.84 86.95L486.96 88.26M485.31 87.18L485.67 82.58M485.15 83.61L485.67 82.58L486.02 83.68M485.31 82.35L486.12 76.62M485.4 77.87L486.12 76.62L486.47 78.02M485.31 77.53L486.11 70.96M485.31 72.41L486.11 70.96L486.54 72.56M485.31 72.7L485.15 66.05M484.56 67.61L485.15 66.05L485.81 67.58M485.31 67.87L485.94 62.31M485.27 63.54L485.94 62.31L486.32 63.66M485.31 63.04L487.08 59.34M486.32 60.04L487.08 59.34L487.01 60.37M485.31 58.22L487.34 55.19M486.51 55.75L487.34 55.19L487.14 56.17M485.31 53.39L487.61 52.61M486.61 52.55L487.61 52.61L486.85 53.26M485.31 48.56L488.07 49.06M487.23 48.53L488.07 49.06L487.09 49.26M485.31 43.73L487.63 44.61M486.89 43.93L487.63 44.61L486.63 44.63M485.31 38.9L487.58 40.33M486.99 39.52L487.58 40.33L486.59 40.15M485.31 34.08L486.88 34.88M486.23 34.12L486.88 34.88L485.89 34.79M485.31 29.25L487.48 29.92M486.7 29.28L487.48 29.92L486.48 30M492.72 116.15L493.53 113.87M492.87 114.62L493.53 113.87L493.58 114.87M492.72 111.32L493.71 109.46M492.95 110.1L493.71 109.46L493.61 110.46M492.72 106.49L493.56 104.44M492.87 105.15L493.56 104.44L493.56 105.44M492.72 101.66L493.61 99.56M492.9 100.27L493.61 99.56L493.59 100.56M492.72 96.84L493.8 94.55M493.06 95.23L493.8 94.55L493.74 95.55M492.72 87.18L494.95 84.13M494.1 84.66L494.95 84.13L494.7 85.1M492.72 82.35L494.83 79.76M493.96 80.24L494.83 79.76L494.54 80.72M492.72 77.53L494.54 74.13M493.77 74.77L494.54 74.13L494.43 75.13M492.72 72.7L495.2 69.83M494.31 70.29L495.2 69.83L494.88 70.78M492.72 67.87L494.83 65.89M493.9 66.25L494.83 65.89L494.41 66.8M492.72 63.04L495.21 62.43M494.22 62.29L495.21 62.43L494.4 63.01M492.72 58.22L495.14 59.11M494.4 58.44L495.14 59.11L494.14 59.14M492.72 53.39L495.14 54.78M494.52 54L495.14 54.78L494.15 54.64M492.72 48.56L495.77 50.62M495.21 49.79L495.77 50.62L494.79 50.41M492.72 43.73L495.88 46.35M495.39 45.45L495.88 46.35L494.9 46.04M492.72 38.9L495.16 41.42M494.78 40.49L495.16 41.42L494.24 41.01M492.72 34.08L494.78 35.05M494.11 34.31L494.78 35.05L493.79 34.99M492.72 29.25L494.64 30.25M493.99 29.49L494.64 30.25L493.64 30.15M500.13 116.15L501.1 114.43M500.32 115.06L501.1 114.43L500.97 115.42M500.13 111.32L501.41 109.99M500.5 110.4L501.41 109.99L501.04 110.92M500.13 106.49L501.29 105.42M500.36 105.78L501.29 105.42L500.86 106.33M500.13 101.66L501.08 101.36M500.08 101.29L501.08 101.36L500.31 102M500.13 82.35L503.82 80.1M502.75 80.27L503.82 80.1L503.18 80.96M500.13 77.53L503.72 75.62M502.71 75.73L503.72 75.62L503.07 76.4M500.13 72.7L503.95 73.3M503.09 72.79L503.95 73.3L502.97 73.53M500.13 67.87L503.03 68.07M502.13 67.63L503.03 68.07L502.08 68.38M500.13 63.04L503.62 64.24M502.87 63.58L503.62 64.24L502.62 64.29M500.13 58.22L503.73 60.91M503.15 59.95L503.73 60.91L502.65 60.62M500.13 53.39L503.69 55.86M503.09 54.96L503.69 55.86L502.63 55.62M500.13 48.56L502.65 51.34M502.3 50.4L502.65 51.34L501.75 50.91M500.13 43.73L502.73 45.95M502.27 45.07L502.73 45.95L501.78 45.64M500.13 38.9L502.9 41.26M502.44 40.37L502.9 41.26L501.95 40.94M500.13 34.08L502.35 35.6M501.8 34.77L502.35 35.6L501.38 35.39M500.13 29.25L502.04 30.95M501.59 30.06L502.04 30.95L501.09 30.61M507.54 116.15L508.55 115.74M507.55 115.74L508.55 115.74L507.83 116.43M507.54 111.32L508.28 111.18M507.3 110.98L508.28 111.18L507.44 111.72M507.54 106.49L508.3 106.24M507.3 106.18L508.3 106.24L507.54 106.89M507.54 101.66L508.65 101.01M507.66 101.16L508.65 101.01L508.04 101.8M507.54 96.84L509.15 95.84M508.16 96.01L509.15 95.84L508.56 96.65M507.54 82.35L510.92 80.82M509.92 80.86L510.92 80.82L510.23 81.54M507.54 77.53L510.41 77.2M509.45 76.93L510.41 77.2L509.53 77.68M507.54 72.7L511.12 72.64M510.18 72.28L511.12 72.64L510.2 73.03M507.54 67.87L511.3 68.1M510.4 67.67L511.3 68.1L510.35 68.42M507.54 63.04L511.26 64.39M510.51 63.72L511.26 64.39L510.26 64.43M507.54 58.22L510.3 60.15M509.76 59.31L510.3 60.15L509.33 59.92M507.54 53.39L510.63 55.18M510.02 54.39L510.63 55.18L509.64 55.04M507.54 48.56L510.97 50.67M510.37 49.86L510.97 50.67L509.98 50.51M507.54 43.73L510.85 46.62M510.35 45.64L510.85 46.62L509.81 46.26M507.54 38.9L509.97 42.47M509.74 41.42L509.97 42.47L509.07 41.87M507.54 34.08L510.23 37.16M509.89 36.19L510.23 37.16L509.31 36.69M507.54 29.25L510.35 31.07M509.77 30.25L510.35 31.07L509.37 30.88M514.95 116.15L515.7 115.73M514.7 115.85L515.7 115.73L515.07 116.51M514.95 111.32L515.86 111.05M514.86 110.95L515.86 111.05L515.07 111.67M514.95 106.49L515.91 106.29M514.93 106.11L515.91 106.29L515.08 106.85M514.95 101.66L515.93 101.06M514.95 101.23L515.93 101.06L515.34 101.87M514.95 96.84L516.48 95.61M515.52 95.89L516.48 95.61L515.99 96.48M514.95 77.53L517.57 77.04M516.59 76.84L517.57 77.04L516.72 77.58M514.95 72.7L517.88 72.57M516.94 72.23L517.88 72.57L516.97 72.98M514.95 67.87L518.09 68.2M517.21 67.73L518.09 68.2L517.13 68.47M514.95 63.04L518.49 63.67M517.64 63.14L518.49 63.67L517.51 63.87M514.95 58.22L518.24 60.25M517.65 59.44L518.24 60.25L517.26 60.08M514.95 53.39L517.32 55.84M516.94 54.92L517.32 55.84L516.4 55.44M514.95 48.56L517.87 50.48M517.3 49.65L517.87 50.48L516.89 50.28M514.95 43.73L517.32 46.03M516.92 45.12L517.32 46.03L516.4 45.66M514.95 38.9L517.87 42.34M517.51 41.27L517.87 42.34L516.87 41.82M514.95 34.08L517.82 36.47M517.35 35.59L517.82 36.47L516.87 36.17M514.95 29.25L517.2 31.19M516.75 30.31L517.2 31.19L516.26 30.87M522.36 67.87L526.16 67.8M525.23 67.45L526.16 67.8L525.24 68.19M522.36 63.04L526.14 63.51M525.27 63.03L526.14 63.51L525.17 63.77M522.36 58.22L525.89 60.77M525.31 59.85L525.89 60.77L524.83 60.51M522.36 53.39L524.87 56.05M524.51 55.11L524.87 56.05L523.96 55.63M522.36 48.56L524.94 50.43M524.41 49.58L524.94 50.43L523.97 50.19M522.36 43.73L525.51 45.07M524.8 44.36L525.51 45.07L524.51 45.05M522.36 38.9L524.88 40.35M524.26 39.56L524.88 40.35L523.89 40.21M522.36 34.08L524.87 35.34M524.21 34.59L524.87 35.34L523.88 35.26M529.76 63.04L533.84 63.19M532.91 62.77L533.84 63.19L532.88 63.54M529.76 58.22L532.73 59.15M531.96 58.52L532.73 59.15L531.73 59.23M529.76 53.39L533.07 54.49M532.31 53.84L533.07 54.49L532.08 54.55M529.76 48.56L533.67 48.5M532.73 48.14L533.67 48.5L532.74 48.89M529.76 43.73L533.11 43.37M532.14 43.09L533.11 43.37L532.23 43.84M529.76 38.9L532.74 39.14M531.85 38.69L532.74 39.14L531.79 39.44M529.76 34.08L533.52 34.52M532.65 34.04L533.52 34.52L532.56 34.79M537.17 67.87L540 68.04M539.09 67.61L540 68.04L539.05 68.36M537.17 63.04L540.94 62.89M540 62.55L540.94 62.89L540.03 63.3M537.17 58.22L540.95 58.07M540.01 57.73L540.95 58.07L540.04 58.48M537.17 53.39L540.33 52.88M539.35 52.66L540.33 52.88L539.47 53.4M537.17 48.56L540.4 47.74M539.41 47.6L540.4 47.74L539.59 48.33M537.17 43.73L540.69 43.44M539.73 43.15L540.69 43.44L539.79 43.89M537.17 38.9L541.13 38.77M540.19 38.42L541.13 38.77L540.21 39.17M537.17 34.08L540.98 33.55M540.01 33.31L540.98 33.55L540.11 34.05M544.58 63.04L548.23 62.17M547.25 62.02L548.23 62.17L547.42 62.75M544.58 58.22L548.58 57.33M547.57 57.16L548.58 57.33L547.74 57.91M544.58 53.39L547.9 52.88M546.93 52.65L547.9 52.88L547.04 53.39M544.58 48.56L548.7 47.61M547.66 47.44L548.7 47.61L547.84 48.22M544.58 43.73L548.56 42.65M547.53 42.53L548.56 42.65L547.74 43.27M544.58 38.9L547.81 38.29M546.83 38.1L547.81 38.29L546.97 38.83M551.99 63.04L556.04 62.54M555.05 62.28L556.04 62.54L555.14 63.03M551.99 58.22L555.91 57M554.88 56.91L555.91 57L555.11 57.65M551.99 53.39L556.04 52.21M554.99 52.1L556.04 52.21L555.21 52.86M551.99 48.56L555.25 48.3M554.29 48L555.25 48.3L554.35 48.75M551.99 43.73L555.66 43.37M554.7 43.09L555.66 43.37L554.77 43.83M559.4 63.04L563.22 62.7M562.26 62.41L563.22 62.7L562.33 63.15M559.4 58.22L562.94 57.76M561.97 57.51L562.94 57.76L562.07 58.25M559.4 53.39L563.15 53M562.19 52.72L563.15 53L562.27 53.47M559.4 48.56L562.74 48.16M561.77 47.9L562.74 48.16L561.86 48.64M559.4 43.73L562.8 42.97M561.81 42.81L562.8 42.97L561.97 43.54M566.8 63.04L569.83 62.57M568.86 62.34L569.83 62.57L568.97 63.08M566.8 58.22L569.67 58.02M568.72 57.71L569.67 58.02L568.77 58.46M566.8 53.39L569.58 52.5M568.59 52.43L569.58 52.5L568.81 53.14M566.8 48.56L569.66 48.4M568.72 48.08L569.66 48.4L568.76 48.83M566.8 43.73L569.83 42.89M568.84 42.77L569.83 42.89L569.04 43.5M574.21 58.22L576.85 57.4M575.85 57.31L576.85 57.4L576.07 58.03M574.21 53.39L577.73 52.91M576.76 52.66L577.73 52.91L576.86 53.4M574.21 48.56L577.75 48.18M576.79 47.91L577.75 48.18L576.87 48.65M574.21 43.73L576.98 43.32M576.01 43.09L576.98 43.32L576.12 43.83M581.62 58.22L584.68 57.99M583.73 57.68L584.68 57.99L583.78 58.43M581.62 53.39L585.22 53.2M584.27 52.87L585.22 53.2L584.31 53.62M581.62 48.56L584.35 48.4M583.4 48.08L584.35 48.4L583.44 48.83M581.62 43.73L585.31 43.61M584.37 43.27L585.31 43.61L584.4 44.01M581.62 38.9L584.29 38.27M583.3 38.12L584.29 38.27L583.47 38.85M589.03 58.22L591.55 57.54M590.56 57.42L591.55 57.54L590.75 58.14M589.03 53.39L592.4 53.27M591.46 52.93L592.4 53.27L591.48 53.68M589.03 48.56L592.14 48.48M591.21 48.13L592.14 48.48L591.22 48.88M589.03 43.73L592.09 43.19M591.11 42.98L592.09 43.19L591.24 43.72M589.03 38.9L591.52 38.32M590.53 38.17L591.52 38.32L590.7 38.9M596.44 58.22L599.56 57.61M598.58 57.42L599.56 57.61L598.72 58.16M596.44 53.39L599.11 53.07M598.14 52.81L599.11 53.07L598.23 53.55M596.44 48.56L598.78 48.19M597.8 47.96L598.78 48.19L597.92 48.7M596.44 43.73L599.08 43.65M598.14 43.3L599.08 43.65L598.16 44.05M596.44 38.9L599.15 38.5M598.18 38.27L599.15 38.5L598.29 39.01M603.85 58.22L607.19 57.87M606.23 57.59L607.19 57.87L606.31 58.33M603.85 53.39L607.06 53.19M606.11 52.87L607.06 53.19L606.16 53.62M603.85 48.56L606.21 48.29M605.24 48.02L606.21 48.29L605.33 48.77M603.85 43.73L606.64 43.69M605.7 43.33L606.64 43.69L605.71 44.08M603.85 38.9L606.55 38.8M605.61 38.46L606.55 38.8L605.64 39.21M611.25 58.22L614.12 57.63M613.13 57.45L614.12 57.63L613.28 58.18M611.25 53.39L614.41 52.66M613.43 52.5L614.41 52.66L613.59 53.23M611.25 48.56L614.38 47.92M613.4 47.74L614.38 47.92L613.55 48.47M611.25 43.73L613.56 43.28M612.58 43.09L613.56 43.28L612.73 43.82M611.25 38.9L614.39 38.95M613.47 38.56L614.39 38.95L613.46 39.31M611.25 34.08L613.6 33.76M612.64 33.52L613.6 33.76L612.73 34.26M618.66 58.22L621.52 58.01M620.57 57.7L621.52 58.01L620.63 58.45M618.66 53.39L621.18 52.99M620.2 52.77L621.18 52.99L620.32 53.51M618.66 48.56L621.36 48.39M620.41 48.07L621.36 48.39L620.46 48.82M618.66 43.73L621.28 43.64M620.34 43.3L621.28 43.64L620.36 44.05M618.66 38.9L621.23 38.27M620.24 38.13L621.23 38.27L620.42 38.86M618.66 34.08L621.7 33.58M620.72 33.36L621.7 33.58L620.84 34.1M626.07 58.22L628.51 57.88M627.54 57.64L628.51 57.88L627.65 58.38M626.07 53.39L628.49 53.16M627.53 52.87L628.49 53.16L627.6 53.62M626.07 48.56L629.11 48.27M628.15 47.99L629.11 48.27L628.22 48.73M626.07 43.73L628.98 43.1M628 42.93L628.98 43.1L628.16 43.66M626.07 38.9L628.76 38.34M627.78 38.17L628.76 38.34L627.93 38.9M626.07 34.08L629.19 33.13M628.19 33.04L629.19 33.13L628.41 33.76M626.07 29.25L629.17 28.24M628.18 28.17L629.17 28.24L628.41 28.88M633.48 58.22L635.96 57.58M634.97 57.45L635.96 57.58L635.15 58.18M633.48 53.39L636.69 52.8M635.71 52.6L636.69 52.8L635.85 53.34M633.48 48.56L636.2 48.37M635.25 48.06L636.2 48.37L635.3 48.81M633.48 43.73L636.01 43.25M635.03 43.06L636.01 43.25L635.17 43.79M633.48 38.9L636.34 38.59M635.38 38.32L636.34 38.59L635.46 39.07M633.48 34.08L636.56 33.62M635.58 33.38L636.56 33.62L635.69 34.13M640.89 53.39L643.51 52.73M642.52 52.59L643.51 52.73L642.7 53.32M640.89 48.56L643.37 48.3M642.41 48.03L643.37 48.3L642.49 48.77M640.89 43.73L643.87 43.32M642.9 43.07L643.87 43.32L643.01 43.82M640.89 38.9L643.33 38.31M642.34 38.17L643.33 38.31L642.52 38.9M640.89 34.08L643.95 33.43M642.96 33.25L643.95 33.43L643.12 33.99M648.29 48.56L650.69 47.95M649.7 47.82L650.69 47.95L649.88 48.54M648.29 43.73L651.37 42.7M650.37 42.64L651.37 42.7L650.61 43.35M648.29 38.9L650.71 38.12M649.71 38.05L650.71 38.12L649.94 38.76M648.29 34.08L651.31 33.58M650.34 33.36L651.31 33.58L650.46 34.1M648.29 29.25L650.64 28.39M649.64 28.36L650.64 28.39L649.9 29.06" stroke="#0a0aff" stroke-width="0.5" stroke-opacity="0.6" fill="none" stroke-linecap="round"/>
<polyline points="390.5,71.5 390.5,69.5 390.5,68.5 390.5,67.5 391.5,66.5 392.5,66.5 393.5,65.5 394.5,65.5 395.5,65.5 396.5,64.5 397.5,64.5 398.5,64.5 399.5,64.5 400.5,64.5 400.5,63.5 401.5,62.5 402.5,61.5 403.5,60.5 404.5,59.5 404.5,58.5 405.5,57.5 405.5,56.5 405.5,55.5 405.5,54.5 406.5,53.5 407.5,52.5 407.5,51.5 408.5,51.5 409.5,51.5 410.5,50.5 411.5,50.5 412.5,49.5 413.5,49.5 414.5,49.5 415.5,49.5 416.5,49.5 417.5,49.5 418.5,49.5 419.5,50.5 421.5,50.5 422.5,49.5 423.5,48.5 424.5,48.5 424.5,47.5 426.5,47.5 426.5,46.5 427.5,45.5 428.5,45.5 429.5,44.5 430.5,43.5 431.5,42.5 432.5,41.5 433.5,41.5 434.5,41.5 435.5,40.5 436.5,40.5 437.5,40.5 438.5,39.5 439.5,39.5 439.5,38.5 440.5,38.5 441.5,37.5 442.5,37.5 442.5,36.5 443.5,36.5 443.5,35.5 443.5,34.5 444.5,33.5 444.5,32.5 445.5,32.5 446.5,32.5 447.5,31.5 448.5,31.5 449.5,30.5 450.5,30.5 451.5,29.5 452.5,29.5 453.5,29.5 454.5,29.5 455.5,28.5 456.5,29.5 457.5,28.5 458.5,28.5 458.5,27.5 460.5,27.5 460.5,26.5 461.5,26.5 462.5,26.5 463.5,26.5 464.5,26.5 465.5,26.5 466.5,26.5 467.5,27.5 468.5,27.5 469.5,27.5 470.5,27.5 471.5,27.5 472.5,28.5 473.5,28.5 474.5,28.5 475.5,28.5 476.5,28.5 477.5,28.5 478.5,27.5 479.5,27.5 480.5,26.5 481.5,26.5 482.5,27.5 483.5,26.5 484.5,26.5 485.5,26.5 486.5,26.5 487.5,25.5 488.5,25.5 489.5,25.5 490.5,25.5 491.5,25.5 492.5,25.5 493.5,25.5 494.5,25.5 495.5,25.5 496.5,24.5 497.5,24.5 498.5,24.5 499.5,24.5 500.5,24.5 501.5,24.5 502.5,24.5 503.5,25.5 504.5,25.5 505.5,25.5 506.5,25.5 507.5,25.5 508.5,25.5 509.5,25.5 510.5,25.5 511.5,25.5 512.5,25.5 513.5,25.5 514.5,26.5 515.5,25.5 516.5,26.5 517.5,26.5 518.5,26.5 519.5,26.5 520.5,26.5 520.5,27.5 521.5,27.5 522.5,27.5 523.5,27.5 524.5,27.5 525.5,27.5 526.5,28.5 527.5,28.5 528.5,28.5 528.5,29.5 529.5,30.5 530.5,31.5 531.5,32.5 531.5,33.5 532.5,34.5 533.5,33.5 534.5,33.5 535.5,32.5 535.5,31.5 536.5,31.5 538.5,31.5 538.5,32.5 539.5,33.5 540.5,33.5 541.5,33.5 541.5,34.5 542.5,34.5 543.5,33.5 543.5,32.5 544.5,32.5 545.5,32.5 546.5,33.5 547.5,34.5 548.5,34.5 548.5,35.5 549.5,36.5 550.5,37.5 551.5,37.5 551.5,38.5 552.5,37.5 553.5,37.5 554.5,38.5 555.5,38.5 556.5,37.5 557.5,37.5 557.5,36.5 558.5,37.5 559.5,37.5 559.5,38.5 560.5,39.5 561.5,40.5 562.5,40.5 563.5,39.5 564.5,40.5 565.5,40.5 566.5,40.5 567.5,39.5 568.5,38.5 568.5,37.5 569.5,36.5 570.5,36.5 571.5,37.5 571.5,38.5 572.5,37.5 573.5,37.5 574.5,37.5 575.5,37.5 576.5,37.5 577.5,36.5 578.5,37.5 579.5,36.5 580.5,35.5 581.5,34.5 582.5,34.5 583.5,34.5 584.5,35.5 585.5,35.5 586.5,35.5 587.5,35.5 588.5,34.5 589.5,34.5 590.5,35.5 590.5,34.5 591.5,34.5 592.5,34.5 593.5,34.5 594.5,34.5 595.5,34.5 596.5,34.5 597.5,33.5 598.5,33.5 599.5,33.5 600.5,33.5 602.5,32.5 603.5,32.5 604.5,32.5 605.5,32.5 605.5,31.5 606.5,31.5 607.5,31.5 608.5,31.5 609.5,31.5 610.5,31.5 611.5,31.5 612.5,30.5 614.5,30.5 615.5,30.5 616.5,30.5 617.5,30.5 618.5,29.5 619.5,29.5 620.5,29.5 621.5,28.5 622.5,28.5 623.5,27.5 624.5,26.5 625.5,25.5 626.5,25.5 627.5,26.5 628.5,27.5 629.5,28.5 630.5,29.5 631.5,28.5 633.5,28.5 634.5,28.5 635.5,28.5 636.5,28.5 637.5,28.5 638.5,27.5 639.5,28.5 640.5,27.5 641.5,27.5 642.5,27.5 643.5,27.5 643.5,26.5 644.5,26.5 645.5,26.5 646.5,26.5 647.5,25.5 648.5,25.5 649.5,24.5 650.5,24.5 650.5,23.5 651.5,22.5 652.5,21.5 653.5,20.5 654.5,20.5 655.5,19.5 656.5,19.5 657.5,19.5 658.5,18.5 659.5,18.5 660.5,18.5 661.5,17.5 662.5,17.5" stroke="#303030" stroke-width="1.05" fill="none" stroke-linejoin="round"/>
<polyline points="499.5,95.5 499.5,94.5 498.5,94.5 497.5,93.5 496.5,93.5 495.5,93.5 494.5,92.5 493.5,92.5 492.5,91.5 491.5,90.5 492.5,89.5 493.5,89.5 494.5,88.5 495.5,87.5 496.5,86.5 497.5,85.5 499.5,84.5 500.5,85.5 501.5,85.5 502.5,86.5 503.5,86.5 504.5,86.5 505.5,86.5 506.5,86.5 507.5,85.5 508.5,84.5 509.5,84.5 509.5,83.5 510.5,83.5 511.5,82.5 512.5,82.5 513.5,82.5 515.5,81.5 517.5,80.5 518.5,80.5 518.5,79.5 518.5,78.5 519.5,77.5 518.5,76.5 519.5,75.5 519.5,74.5 520.5,73.5 520.5,72.5 521.5,71.5 522.5,70.5 523.5,69.5 525.5,69.5 526.5,69.5 527.5,69.5 528.5,69.5 529.5,69.5 530.5,69.5 531.5,69.5 531.5,70.5 532.5,70.5 533.5,71.5 534.5,71.5 535.5,71.5 536.5,71.5 537.5,71.5 537.5,70.5 538.5,70.5 539.5,69.5 540.5,69.5 541.5,69.5 542.5,69.5 543.5,69.5 544.5,69.5 545.5,69.5 546.5,68.5 547.5,68.5 548.5,68.5 549.5,68.5 550.5,67.5 551.5,67.5 552.5,67.5 553.5,67.5 554.5,68.5 555.5,68.5 556.5,68.5 557.5,67.5 558.5,67.5 559.5,67.5 560.5,67.5 561.5,67.5 562.5,67.5 563.5,67.5 564.5,66.5 565.5,66.5 566.5,66.5 567.5,66.5 568.5,66.5 568.5,65.5 569.5,65.5 570.5,64.5 571.5,64.5 572.5,64.5 573.5,64.5 574.5,64.5 575.5,64.5 575.5,63.5 576.5,63.5 577.5,63.5 578.5,63.5 579.5,63.5 580.5,63.5 581.5,63.5 582.5,63.5 583.5,63.5 584.5,63.5 585.5,63.5 586.5,63.5 587.5,63.5 588.5,63.5 589.5,63.5 590.5,64.5 591.5,64.5 593.5,64.5 594.5,64.5 595.5,63.5 596.5,63.5 597.5,63.5 598.5,63.5 599.5,63.5 600.5,63.5 601.5,63.5 602.5,63.5 603.5,63.5 604.5,63.5 605.5,62.5 606.5,62.5 607.5,62.5 608.5,62.5 609.5,62.5 610.5,62.5 611.5,62.5 612.5,62.5 613.5,62.5 614.5,61.5 615.5,61.5 616.5,61.5 617.5,61.5 618.5,62.5 619.5,62.5 620.5,62.5 621.5,62.5 622.5,62.5 622.5,63.5 623.5,62.5 624.5,61.5 624.5,60.5 625.5,60.5 626.5,60.5 627.5,60.5 628.5,59.5 629.5,59.5 630.5,59.5 631.5,60.5 632.5,60.5 634.5,60.5 634.5,59.5 635.5,59.5 636.5,58.5 637.5,58.5 638.5,58.5 639.5,58.5 639.5,57.5 640.5,57.5 641.5,57.5 642.5,57.5 643.5,56.5 644.5,55.5 645.5,55.5 645.5,54.5 646.5,54.5 647.5,54.5 648.5,54.5 649.5,54.5 650.5,54.5 651.5,53.5 652.5,53.5 653.5,53.5 654.5,53.5 655.5,52.5 656.5,52.5 657.5,52.5 657.5,51.5 658.5,51.5 659.5,51.5 659.5,50.5 660.5,50.5 661.5,49.5 662.5,49.5" stroke="#303030" stroke-width="1.05" fill="none" stroke-linejoin="round"/>
<path d="M557 49.1L576.9 49.1" stroke="#111" stroke-width="1.8" fill="none"/><path d="M581.4 49.1L575.9 51.6L575.9 46.6Z" fill="#111"/>
<path d="M585 48.8L631.01 38.39" stroke="#111" stroke-width="1.8" fill="none"/><path d="M635.4 37.4L630.59 41.05L629.48 36.17Z" fill="#111"/>
<path d="M636.9 38.1L633.35 47.78" stroke="#111" stroke-width="1.8" fill="none"/><path d="M631.8 52L631.35 45.98L636.04 47.7Z" fill="#111"/>
<path d="M628.8 53.9L607.8 53.9" stroke="#111" stroke-width="1.8" fill="none"/><path d="M603.3 53.9L608.8 51.4L608.8 56.4Z" fill="#111"/>
<text x="380.4" y="15.6" text-anchor="end" font-size="9.3" fill="#000">-1.06</text>
<text x="380.4" y="47" text-anchor="end" font-size="9.3" fill="#000">-1.08</text>
<text x="380.4" y="78.4" text-anchor="end" font-size="9.3" fill="#000">-1.1</text>
<text x="380.4" y="109.8" text-anchor="end" font-size="9.3" fill="#000">-1.12</text>
<text x="380.4" y="141.2" text-anchor="end" font-size="9.3" fill="#000">-1.14</text>
<text x="383.6" y="149.8" text-anchor="middle" font-size="9.3" fill="#000">-10.4</text>
<text x="420.3" y="149.8" text-anchor="middle" font-size="9.3" fill="#000">-10.2</text>
<text x="457" y="149.8" text-anchor="middle" font-size="9.3" fill="#000">-10</text>
<text x="493.7" y="149.8" text-anchor="middle" font-size="9.3" fill="#000">-9.8</text>
<text x="530.4" y="149.8" text-anchor="middle" font-size="9.3" fill="#000">-9.6</text>
<text x="567.1" y="149.8" text-anchor="middle" font-size="9.3" fill="#000">-9.4</text>
<text x="603.8" y="149.8" text-anchor="middle" font-size="9.3" fill="#000">-9.2</text>
<text x="640.5" y="149.8" text-anchor="middle" font-size="9.3" fill="#000">-9</text>
<text x="677.2" y="149.8" text-anchor="middle" font-size="9.3" fill="#000">-8.8</text>
<text x="530.4" y="161.7" text-anchor="middle" font-size="10.6" fill="#111">x [m]</text>
<text transform="translate(357.8 74.5) rotate(-90)" text-anchor="middle" font-size="10.6" fill="#111">y [m]</text>
<text x="384" y="11.9" font-size="13" fill="#666">×</text><text x="392.3" y="10.5" font-size="9.6" fill="#333">10</text><text x="401.6" y="6.2" font-size="7.2" fill="#333">5</text>
<text x="656.6" y="165.3" font-size="13" fill="#666">×</text><text x="664.9" y="163.9" font-size="9.6" fill="#333">10</text><text x="674.2" y="159.6" font-size="7.2" fill="#333">4</text>
<text x="484.6" y="177.7" font-size="12.2" fill="#111" textLength="68.3" lengthAdjust="spacing">(b) 11 h -12 h</text>
<line x1="70.46" y1="194.3" x2="70.46" y2="319.5" stroke="#555" stroke-width="0.8" stroke-dasharray="2 1.6"/>
<line x1="106.92" y1="194.3" x2="106.92" y2="319.5" stroke="#d0d0d0" stroke-width="0.8" stroke-dasharray="1.5 1.5"/>
<line x1="143.39" y1="194.3" x2="143.39" y2="319.5" stroke="#999" stroke-width="0.8" stroke-dasharray="1.8 1.6"/>
<line x1="179.85" y1="194.3" x2="179.85" y2="319.5" stroke="#555" stroke-width="0.8" stroke-dasharray="2 1.6"/>
<line x1="216.31" y1="194.3" x2="216.31" y2="319.5" stroke="#d0d0d0" stroke-width="0.8" stroke-dasharray="1.5 1.5"/>
<line x1="252.77" y1="194.3" x2="252.77" y2="319.5" stroke="#555" stroke-width="0.8" stroke-dasharray="2 1.6"/>
<line x1="289.24" y1="194.3" x2="289.24" y2="319.5" stroke="#999" stroke-width="0.8" stroke-dasharray="1.8 1.6"/>
<line x1="34" y1="225.6" x2="325.7" y2="225.6" stroke="#999" stroke-width="0.8" stroke-dasharray="1.8 1.6"/>
<line x1="34" y1="256.9" x2="325.7" y2="256.9" stroke="#999" stroke-width="0.8" stroke-dasharray="1.8 1.6"/>
<line x1="34" y1="288.2" x2="325.7" y2="288.2" stroke="#d0d0d0" stroke-width="0.8" stroke-dasharray="1.5 1.5"/>
<line x1="34" y1="194.3" x2="325.7" y2="194.3" stroke="#999" stroke-width="1"/>
<line x1="34" y1="194.3" x2="34" y2="319.5" stroke="#e0e0e0" stroke-width="1"/>
<line x1="325.7" y1="194.3" x2="325.7" y2="319.5" stroke="#e6e6e6" stroke-width="1"/>
<line x1="34" y1="319.5" x2="325.7" y2="319.5" stroke="#555" stroke-width="1.1"/>
<path d="M43.12 194.3v2M43.12 319.5v-2M52.23 194.3v2M52.23 319.5v-2M61.35 194.3v2M61.35 319.5v-2M70.46 194.3v2M70.46 319.5v-2M79.58 194.3v2M79.58 319.5v-2M88.69 194.3v2M88.69 319.5v-2M97.81 194.3v2M97.81 319.5v-2M106.92 194.3v2M106.92 319.5v-2M116.04 194.3v2M116.04 319.5v-2M125.16 194.3v2M125.16 319.5v-2M134.27 194.3v2M134.27 319.5v-2M143.39 194.3v2M143.39 319.5v-2M152.5 194.3v2M152.5 319.5v-2M161.62 194.3v2M161.62 319.5v-2M170.73 194.3v2M170.73 319.5v-2M179.85 194.3v2M179.85 319.5v-2M188.97 194.3v2M188.97 319.5v-2M198.08 194.3v2M198.08 319.5v-2M207.2 194.3v2M207.2 319.5v-2M216.31 194.3v2M216.31 319.5v-2M225.43 194.3v2M225.43 319.5v-2M234.54 194.3v2M234.54 319.5v-2M243.66 194.3v2M243.66 319.5v-2M252.77 194.3v2M252.77 319.5v-2M261.89 194.3v2M261.89 319.5v-2M271.01 194.3v2M271.01 319.5v-2M280.12 194.3v2M280.12 319.5v-2M289.24 194.3v2M289.24 319.5v-2M298.35 194.3v2M298.35 319.5v-2M307.47 194.3v2M307.47 319.5v-2M316.58 194.3v2M316.58 319.5v-2M34 202.12h2M325.7 202.12h-2M34 209.95h2M325.7 209.95h-2M34 217.78h2M325.7 217.78h-2M34 225.6h2M325.7 225.6h-2M34 233.43h2M325.7 233.43h-2M34 241.25h2M325.7 241.25h-2M34 249.07h2M325.7 249.07h-2M34 256.9h2M325.7 256.9h-2M34 264.73h2M325.7 264.73h-2M34 272.55h2M325.7 272.55h-2M34 280.38h2M325.7 280.38h-2M34 288.2h2M325.7 288.2h-2M34 296.02h2M325.7 296.02h-2M34 303.85h2M325.7 303.85h-2M34 311.68h2M325.7 311.68h-2" stroke="#888" stroke-width="0.75" fill="none"/>
<path d="M76.17 298.41L79.47 298.22M78.52 297.9L79.47 298.22L78.57 298.65M76.17 293.6L79.91 293.23M78.95 292.95L79.91 293.23L79.03 293.7M76.17 288.79L79.7 288.48M78.74 288.19L79.7 288.48L78.81 288.93M76.17 283.98L80.57 284.25M79.58 283.78L80.57 284.25L79.52 284.6M76.17 279.17L79.33 279.56M78.46 279.08L79.33 279.56L78.36 279.82M76.17 274.35L79.34 274.23M78.4 273.89L79.34 274.23L78.43 274.64M76.17 269.54L80.56 269.89M79.57 269.4L80.56 269.89L79.51 270.22M76.17 264.73L80.23 264.65M79.28 264.29L80.23 264.65L79.3 265.05M76.17 259.92L79.43 260.04M78.51 259.63L79.43 260.04L78.49 260.38M76.17 255.1L79.24 254.87M78.29 254.57L79.24 254.87L78.35 255.31M76.17 250.29L79.67 249.86M78.7 249.61L79.67 249.86L78.79 250.35M76.17 245.48L79.7 245.82M78.81 245.36L79.7 245.82L78.74 246.1M76.17 240.67L79.81 240.95M78.92 240.51L79.81 240.95L78.86 241.25M76.17 235.86L79.41 236.55M78.58 235.99L79.41 236.55L78.42 236.72M83.53 298.41L86.66 298.49M85.74 298.09L86.66 298.49L85.73 298.84M83.53 293.6L87.09 293.85M86.19 293.41L87.09 293.85L86.14 294.16M83.53 288.79L87.83 288.72M86.82 288.34L87.83 288.72L86.84 289.14M83.53 283.98L87.36 284.27M86.47 283.83L87.36 284.27L86.41 284.57M83.53 279.17L87.12 278.92M86.17 278.61L87.12 278.92L86.22 279.36M83.53 274.35L87.48 274.76M86.6 274.29L87.48 274.76L86.52 275.04M83.53 269.54L87.61 269.74M86.68 269.32L87.61 269.74L86.65 270.08M83.53 264.73L87.7 264.91M86.76 264.48L87.7 264.91L86.72 265.26M83.53 259.92L87.34 259.84M86.4 259.48L87.34 259.84L86.42 260.23M83.53 255.1L86.85 255.22M85.94 254.81L86.85 255.22L85.91 255.56M83.53 250.29L86.6 250.25M85.67 249.89L86.6 250.25L85.68 250.64M83.53 245.48L87.45 245.8M86.56 245.35L87.45 245.8L86.5 246.1M83.53 240.67L86.96 240.74M86.04 240.34L86.96 240.74L86.03 241.09M83.53 235.86L86.4 236.46M85.57 235.9L86.4 236.46L85.41 236.64M83.53 231.04L86.42 231.82M85.62 231.22L86.42 231.82L85.42 231.94M83.53 226.23L85.05 227.42M84.55 226.55L85.05 227.42L84.09 227.14M90.89 298.41L93.95 298.62M93.05 298.19L93.95 298.62L93 298.93M90.89 293.6L94.79 293.61M93.87 293.23L94.79 293.61L93.87 293.98M90.89 288.79L94.49 289.43M93.64 288.9L94.49 289.43L93.51 289.64M90.89 283.98L94.01 284.21M93.11 283.77L94.01 284.21L93.06 284.52M90.89 279.17L94.15 279.61M93.28 279.11L94.15 279.61L93.18 279.86M90.89 274.35L95.13 274.42M94.16 274.01L95.13 274.42L94.14 274.8M90.89 269.54L93.97 269.51M93.04 269.14L93.97 269.51L93.05 269.89M90.89 264.73L94.54 264.84M93.62 264.43L94.54 264.84L93.6 265.18M90.89 259.92L94.57 260.01M93.66 259.61L94.57 260.01L93.64 260.36M90.89 255.1L94.99 255.11M94.04 254.72L94.99 255.11L94.04 255.49M90.89 250.29L94.19 250.72M93.32 250.23L94.19 250.72L93.22 250.97M90.89 245.48L93.64 245.75M92.75 245.29L93.64 245.75L92.68 246.03M90.89 240.67L93.53 241.25M92.7 240.68L93.53 241.25L92.54 241.41M90.89 235.86L93.05 236.71M92.33 236.02L93.05 236.71L92.05 236.72M90.89 231.04L93.18 231.51M92.35 230.96L93.18 231.51L92.2 231.69M90.89 226.23L92.17 227.03M91.59 226.22L92.17 227.03L91.19 226.86M98.25 298.41L101 298.63M100.1 298.19L101 298.63L100.04 298.93M98.25 293.6L101.48 294.14M100.63 293.62L101.48 294.14L100.51 294.36M98.25 288.79L101.58 288.8M100.65 288.43L101.58 288.8L100.65 289.18M98.25 283.98L101.56 284.37M100.68 283.89L101.56 284.37L100.59 284.63M98.25 279.17L102.55 279.32M101.57 278.88L102.55 279.32L101.54 279.69M98.25 274.35L101.56 274.45M100.64 274.05L101.56 274.45L100.62 274.79M98.25 269.54L101.65 268.8M100.67 268.63L101.65 268.8L100.83 269.36M98.25 264.73L101.32 264.62M100.38 264.28L101.32 264.62L100.41 265.03M98.25 259.92L102.2 259.88M101.27 259.51L102.2 259.88L101.27 260.26M98.25 255.1L101.7 255.08M100.77 254.71L101.7 255.08L100.78 255.46M98.25 250.29L100.96 250.59M100.08 250.12L100.96 250.59L100 250.86M98.25 245.48L100.55 245.69M99.66 245.23L100.55 245.69L99.59 245.98M98.25 240.67L100.88 241.44M100.09 240.82L100.88 241.44L99.88 241.54M98.25 235.86L101.07 236.45M100.24 235.89L101.07 236.45L100.09 236.62M98.25 231.04L101.33 231.58M100.48 231.05L101.33 231.58L100.35 231.79M98.25 226.23L100.79 227.11M100.04 226.45L100.79 227.11L99.79 227.16M98.25 221.42L98.42 222.62M98.66 221.65L98.42 222.62L97.92 221.75M98.25 216.61L96.88 217.92M97.81 217.55L96.88 217.92L97.29 217.01M105.61 298.41L108.82 298.53M107.91 298.12L108.82 298.53L107.88 298.87M105.61 293.6L108.29 294.15M107.45 293.6L108.29 294.15L107.3 294.33M105.61 288.79L108.7 288.79M107.77 288.41L108.7 288.79L107.77 289.16M105.61 283.98L108.89 283.66M107.93 283.37L108.89 283.66L108 284.12M105.61 279.17L109.31 278.43M108.32 278.24L109.31 278.43L108.47 278.98M105.61 274.35L109.81 272.62M108.68 272.63L109.81 272.62L109 273.42M105.61 269.54L110.6 267.92M109.29 267.83L110.6 267.92L109.6 268.76M105.61 264.73L108.93 263.65M107.93 263.58L108.93 263.65L108.16 264.29M105.61 259.92L109.09 258.93M108.09 258.82L109.09 258.93L108.3 259.54M105.61 255.1L107.26 254.71M106.27 254.56L107.26 254.71L106.44 255.29M105.61 250.29L106.29 249.9M105.3 250.04L106.29 249.9L105.68 250.69M105.61 245.48l0.3 0M105.61 240.67L106.76 240.95M105.95 240.36L106.76 240.95L105.77 241.09M105.61 235.86L107.37 236.24M106.54 235.67L107.37 236.24L106.38 236.41M105.61 231.04L107.57 231.91M106.88 231.19L107.57 231.91L106.57 231.88M105.61 226.23L107.02 226.95M106.36 226.19L107.02 226.95L106.02 226.86M105.61 221.42L104.73 222.67M105.57 222.13L104.73 222.67L104.96 221.7M105.61 216.61L103.68 217.59M104.68 217.51L103.68 217.59L104.34 216.84M112.97 298.41L116.31 298.44M115.38 298.06L116.31 298.44L115.38 298.81M112.97 293.6L116.45 293.62M115.52 293.24L116.45 293.62L115.52 293.99M112.97 288.79L116.76 288.15M115.78 287.93L116.76 288.15L115.91 288.67M112.97 283.98L116.3 282.54M115.3 282.56L116.3 282.54L115.6 283.25M112.97 279.17L117.4 276.83M116.15 276.96L117.4 276.83L116.59 277.79M112.97 274.35L118.25 271.84M116.8 271.93L118.25 271.84L117.27 272.92M112.97 269.54L118.6 265.69M116.94 266.06L118.6 265.69L117.66 267.11M112.97 264.73L117.54 261.35M116.17 261.7L117.54 261.35L116.8 262.56M112.97 259.92L115.95 257.29M115.01 257.62L115.95 257.29L115.51 258.19M112.97 255.1L112.59 254.2M112.61 255.2L112.59 254.2L113.3 254.91M112.97 250.29L110.06 250.06M110.96 250.51L110.06 250.06L111.02 249.76M112.97 245.48L109.82 245.11M110.7 245.59L109.82 245.11L110.79 244.85M112.97 240.67L112.05 240.76M113.01 241.04L112.05 240.76L112.94 240.29M112.97 235.86L114.28 236.56M113.64 235.79L114.28 236.56L113.29 236.45M112.97 231.04L115.11 232.22M114.48 231.44L115.11 232.22L114.12 232.1M112.97 226.23L114.53 227.11M113.91 226.33L114.53 227.11L113.54 226.98M112.97 221.42L113.35 222.6M113.43 221.61L113.35 222.6L112.71 221.83M112.97 216.61L111.82 217.81M112.74 217.4L111.82 217.81L112.19 216.88M112.97 211.79L111.69 212.79M112.65 212.52L111.69 212.79L112.19 211.92M120.34 298.41L123.61 297.09M122.61 297.09L123.61 297.09L122.89 297.79M120.34 293.6L123.43 291.92M122.43 292.03L123.43 291.92L122.79 292.69M120.34 288.79L123.55 285.65M122.51 286.08L123.55 285.65L123.1 286.68M120.34 283.98L123.75 278.92M122.48 279.77L123.75 278.92L123.43 280.41M120.34 279.17L124.81 274.57M123.34 275.22L124.81 274.57L124.2 276.06M120.34 274.35L125.27 271.02M123.81 271.33L125.27 271.02L124.44 272.25M120.34 269.54L125.77 266M124.18 266.31L125.77 266L124.84 267.33M120.34 264.73L126.13 261.72M124.5 261.87L126.13 261.72L125.07 262.96M120.34 259.92L123.57 257.53M122.59 257.78L123.57 257.53L123.04 258.39M120.34 255.1L120.23 253.93M119.94 254.89L120.23 253.93L120.69 254.82M120.34 250.29L116.84 250.18M117.75 250.58L116.84 250.18L117.78 249.83M120.34 245.48L116.54 245.5M117.47 245.87L116.54 245.5L117.46 245.12M120.34 240.67L119.18 240.98M120.17 241.1L119.18 240.98L119.98 240.38M120.34 235.86L122.11 236.95M121.52 236.14L122.11 236.95L121.12 236.78M120.34 231.04L123.08 232.38M122.41 231.64L123.08 232.38L122.08 232.31M120.34 226.23L122.34 227.1M121.64 226.39L122.34 227.1L121.34 227.07M120.34 221.42L120.54 222.45M120.73 221.47L120.54 222.45L119.99 221.61M120.34 216.61L118.86 217.85M119.81 217.54L118.86 217.85L119.33 216.96M127.7 298.41L129.84 296.62M128.89 296.93L129.84 296.62L129.37 297.51M127.7 293.6L130.63 289.97M129.61 290.54L130.63 289.97L130.29 291.09M127.7 288.79L129.81 285.01M128.96 285.69L129.81 285.01L129.67 286.09M127.7 283.98L129.92 279.31M128.97 280.19L129.92 279.31L129.84 280.6M127.7 279.17L132.06 272.37M130.41 273.54L132.06 272.37L131.68 274.35M127.7 274.35L132.22 268.84M130.66 269.7L132.22 268.84L131.69 270.54M127.7 269.54L133.34 265.2M131.63 265.67L133.34 265.2L132.44 266.73M127.7 264.73L133.63 261.51M131.95 261.7L133.63 261.51L132.55 262.81M127.7 259.92L132.7 256.99M131.26 257.2L132.7 256.99L131.81 258.14M127.7 255.1L128.21 253.56M127.56 254.32L128.21 253.56L128.27 254.56M127.7 250.29L125.27 249.96M126.14 250.46L125.27 249.96L126.24 249.72M127.7 245.48L125 245.69M125.95 245.99L125 245.69L125.89 245.24M127.7 240.67L126.64 240.89M127.62 241.06L126.64 240.89L127.47 240.33M127.7 235.86L128.15 236.42M127.86 235.46L128.15 236.42L127.28 235.93M127.7 231.04L128.95 231.79M128.35 230.99L128.95 231.79L127.96 231.64M127.7 226.23L128.04 227.33M128.12 226.33L128.04 227.33L127.41 226.56M127.7 221.42L126.27 222.86M127.19 222.47L126.27 222.86L126.65 221.94M127.7 216.61L125.35 218.12M126.33 217.93L125.35 218.12L125.92 217.3M135.06 298.41L136.76 296.85M135.82 297.2L136.76 296.85L136.33 297.75M135.06 293.6L137.34 291.18M136.43 291.6L137.34 291.18L136.97 292.11M135.06 288.79L136.77 285.38M136.02 286.04L136.77 285.38L136.69 286.37M135.06 283.98L136.25 279.22M135.53 280.21L136.25 279.22L136.42 280.44M135.06 279.17L137.83 272.91M136.6 274.1L137.83 272.91L137.77 274.62M135.06 274.35L138.46 268.51M137.13 269.54L138.46 268.51L138.22 270.18M135.06 269.54L138.13 266.28M137.12 266.75L138.13 266.28L137.73 267.33M135.06 264.73L139.93 262.14M138.55 262.28L139.93 262.14L139.04 263.19M135.06 259.92L138.29 257.24M137.29 257.56L138.29 257.24L137.79 258.16M135.06 255.1L133.39 254.68M134.19 255.27L133.39 254.68L134.38 254.55M135.06 250.29L130.98 250.79M131.97 251.06L130.98 250.79L131.88 250.29M135.06 245.48L132.01 245.99M132.99 246.21L132.01 245.99L132.86 245.47M135.06 240.67L133.45 240.51M134.34 240.97L133.45 240.51L134.41 240.23M135.06 235.86L134.54 235.77M135.4 236.29L134.54 235.77L135.52 235.55M135.06 231.04L134.88 231.29M135.72 230.76L134.88 231.29L135.11 230.32M135.06 226.23L134.59 226.94M135.41 226.37L134.59 226.94L134.78 225.96M135.06 221.42L133.42 222.82M134.37 222.5L133.42 222.82L133.88 221.93M135.06 216.61L132.72 218.39M133.69 218.12L132.72 218.39L133.23 217.53M135.06 211.79L132.95 212.89M133.95 212.79L132.95 212.89L133.6 212.13M142.42 298.41L143.79 298.74M142.97 298.16L143.79 298.74L142.8 298.89M142.42 293.6L143.67 293.8M142.81 293.29L143.67 293.8L142.7 294.03M142.42 288.79L143.49 289.04M142.67 288.47L143.49 289.04L142.5 289.2M142.42 283.98L143.89 282.5M142.97 282.89L143.89 282.5L143.5 283.42M142.42 279.17L144.31 276.44M143.48 276.98L144.31 276.44L144.09 277.41M142.42 269.54L144.58 266.42M143.75 266.96L144.58 266.42L144.36 267.39M142.42 264.73L144.38 263.01M143.44 263.34L144.38 263.01L143.93 263.9M142.42 259.92L143.59 257.95M142.8 258.55L143.59 257.95L143.44 258.94M142.42 255.1L142.1 254.15M142.04 255.15L142.1 254.15L142.75 254.91M142.42 250.29L141.33 249.58M141.9 250.4L141.33 249.58L142.31 249.77M142.42 245.48L141.5 244.77M142.01 245.64L141.5 244.77L142.47 245.04M142.42 240.67L142.49 239.74M142.04 240.64L142.49 239.74L142.79 240.69M142.42 235.86L142.78 235.16M142.02 235.81L142.78 235.16L142.68 236.16M142.42 231.04l0.3 0M142.42 226.23L141.82 226.69M142.78 226.42L141.82 226.69L142.33 225.83M142.42 221.42L141.17 222.5M142.11 222.17L141.17 222.5L141.62 221.61M142.42 216.61L140.8 217.68M141.78 217.48L140.8 217.68L141.37 216.86M142.42 211.79L140.33 213.16M141.31 212.97L140.33 213.16L140.9 212.34M149.78 298.41L150.94 300M150.69 299.03L150.94 300L150.09 299.47M149.78 293.6L150.31 295.27M150.38 294.27L150.31 295.27L149.67 294.5M149.78 288.79L150.33 291.18M150.49 290.2L150.33 291.18L149.76 290.36M149.78 283.98L150.48 285.79M150.49 284.79L150.48 285.79L149.79 285.06M149.78 264.73L151.83 263.73M150.84 263.8L151.83 263.73L151.16 264.47M149.78 259.92L151.32 258.44M150.39 258.81L151.32 258.44L150.91 259.35M149.78 255.1L151.52 253.69M150.57 253.98L151.52 253.69L151.04 254.56M149.78 250.29L152.02 248.38M151.07 248.69L152.02 248.38L151.55 249.26M149.78 245.48L153.05 243.19M152.08 243.41L153.05 243.19L152.51 244.03M149.78 240.67L152.76 237.75M151.79 238.15L152.76 237.75L152.34 238.71M149.78 235.86L151.29 234.36M150.37 234.74L151.29 234.36L150.89 235.27M149.78 231.04L150.33 230.61M149.37 230.89L150.33 230.61L149.83 231.48M149.78 226.23L148.83 226.92M149.8 226.67L148.83 226.92L149.36 226.07M149.78 221.42L148.3 222.47M149.27 222.24L148.3 222.47L148.84 221.63M149.78 216.61L147.43 218.21M148.41 218L147.43 218.21L147.99 217.38M149.78 211.79L147.94 213.57M148.86 213.2L147.94 213.57L148.34 212.66M157.14 298.41L158.03 301.2M158.1 300.2L158.03 301.2L157.39 300.43M157.14 293.6L157.87 296.37M157.99 295.38L157.87 296.37L157.27 295.57M157.14 288.79L158.3 290.85M158.17 289.86L158.3 290.85L157.52 290.23M157.14 283.98L157.94 286.43M158.01 285.43L157.94 286.43L157.3 285.66M157.14 279.17L157.88 281.4M157.94 280.41L157.88 281.4L157.23 280.64M157.14 264.73L158.94 264.34M157.95 264.17L158.94 264.34L158.11 264.9M157.14 259.92L159.17 258.85M158.18 258.95L159.17 258.85L158.53 259.61M157.14 255.1L159.34 253.12M158.4 253.46L159.34 253.12L158.9 254.02M157.14 250.29L159.98 248.31M159.01 248.53L159.98 248.31L159.43 249.15M157.14 245.48L160.76 242.43M159.64 242.8L160.76 242.43L160.21 243.48M157.14 240.67L160.03 238.69M159.05 238.9L160.03 238.69L159.48 239.52M157.14 235.86L159.44 233.74M158.5 234.09L159.44 233.74L159.01 234.65M157.14 231.04L157.66 230.84M156.66 230.83L157.66 230.84L156.93 231.53M157.14 226.23L156 227.36M156.92 226.97L156 227.36L156.39 226.44M157.14 221.42L155.44 222.89M156.39 222.56L155.44 222.89L155.9 222M157.14 216.61L155.53 218.26M156.44 217.86L155.53 218.26L155.91 217.33M157.14 211.79L155.36 213.16M156.33 212.89L155.36 213.16L155.87 212.3M164.5 298.41L165.43 300.67M165.42 299.67L165.43 300.67L164.73 299.95M164.5 293.6L165.46 295.95M165.45 294.95L165.46 295.95L164.76 295.24M164.5 288.79L165.64 290.65M165.47 289.66L165.64 290.65L164.83 290.06M164.5 283.98L165.82 286.47M165.71 285.47L165.82 286.47L165.05 285.82M164.5 279.17L165.34 281M165.3 280.01L165.34 281L164.61 280.32M164.5 259.92L166.62 258.57M165.64 258.75L166.62 258.57L166.04 259.39M164.5 255.1L167.05 253.23M166.08 253.48L167.05 253.23L166.52 254.08M164.5 250.29L167.28 247.7M166.34 248.06L167.28 247.7L166.85 248.61M164.5 245.48L167.61 243.86M166.61 243.96L167.61 243.86L166.96 244.62M164.5 240.67L168.09 238.12M167.02 238.37L168.09 238.12L167.5 239.05M164.5 235.86L166.37 234.42M165.41 234.69L166.37 234.42L165.86 235.28M164.5 231.04l0.3 0M164.5 226.23L162.98 227.6M163.92 227.26L162.98 227.6L163.42 226.7M164.5 221.42L162.53 222.93M163.49 222.66L162.53 222.93L163.03 222.07M164.5 216.61L163.26 218.18M164.13 217.69L163.26 218.18L163.54 217.22M164.5 211.79L163.28 213.18M164.18 212.73L163.28 213.18L163.61 212.24M171.86 250.29L173.88 248.55M172.94 248.87L173.88 248.55L173.43 249.43M171.86 245.48L174.82 243.91M173.83 244.01L174.82 243.91L174.18 244.68M171.86 240.67L173.58 239.92M172.58 239.95L173.58 239.92L172.88 240.64M171.86 235.86L171.86 236.27M172.22 235.34L171.86 236.27L171.48 235.35M171.86 231.04L171.43 231.74M172.23 231.15L171.43 231.74L171.6 230.75M171.86 226.23L171.09 226.94M172.03 226.58L171.09 226.94L171.52 226.03M171.86 221.42L170.82 222.49M171.73 222.09L170.82 222.49L171.19 221.57M171.86 216.61L170.5 217.72M171.45 217.42L170.5 217.72L170.98 216.84M179.22 245.48L179.74 245.42M178.77 245.16L179.74 245.42L178.86 245.9M179.22 240.67L178.57 241.65M179.39 241.08L178.57 241.65L178.77 240.67M179.22 235.86L177.59 237.18M178.54 236.89L177.59 237.18L178.07 236.31M179.22 231.04L178.6 232.02M179.41 231.44L178.6 232.02L178.78 231.03M179.22 226.23L179.02 226.71M179.72 226L179.02 226.71L179.03 225.71M179.22 221.42L179.03 221.86M179.74 221.15L179.03 221.86L179.05 220.86M179.22 216.61L179.07 217.14M179.68 216.34L179.07 217.14L178.96 216.14M186.58 250.29L187.81 249.83M186.81 249.8L187.81 249.83L187.07 250.51M186.58 245.48L187.42 245.32M186.44 245.13L187.42 245.32L186.58 245.86M186.58 240.67L187.07 240.49M186.07 240.45L187.07 240.49L186.32 241.15M186.58 235.86L187.67 235.51M186.67 235.43L187.67 235.51L186.9 236.15M186.58 231.04L188.15 229.99M187.17 230.2L188.15 229.99L187.59 230.82M186.58 226.23L188.32 225.34M187.33 225.43L188.32 225.34L187.67 226.1M186.58 221.42L187.7 220.71M186.72 220.89L187.7 220.71L187.12 221.52M186.58 216.61L187.44 216.07M186.45 216.24L187.44 216.07L186.84 216.88M193.94 245.48L195.58 244.28M194.61 244.52L195.58 244.28L195.05 245.13M193.94 240.67L195.84 239.14M194.88 239.43L195.84 239.14L195.35 240.01M193.94 235.86L196.61 233.42M195.67 233.77L196.61 233.42L196.18 234.32M193.94 231.04L196.95 228.55M196 228.85L196.95 228.55L196.47 229.43M193.94 226.23L196.46 224.91M195.46 225.01L196.46 224.91L195.81 225.67M193.94 221.42L196.22 220.27M195.23 220.35L196.22 220.27L195.56 221.02M201.3 245.48L203.88 244.22M202.88 244.29L203.88 244.22L203.21 244.97M201.3 240.67L203.43 239.21M202.45 239.43L203.43 239.21L202.87 240.04M201.3 235.86L203.82 234.55M202.83 234.64L203.82 234.55L203.17 235.31M201.3 231.04L204.57 228.96M203.58 229.15L204.57 228.96L203.99 229.78M201.3 226.23L203.91 224.27M202.94 224.53L203.91 224.27L203.39 225.13M208.66 245.48L211.25 243.82M210.26 244L211.25 243.82L210.67 244.63M208.66 240.67L211.08 238.71M210.13 239L211.08 238.71L210.6 239.58M208.66 235.86L210.8 234.01M209.85 234.33L210.8 234.01L210.34 234.9M208.66 231.04L211.54 229.17M210.56 229.36L211.54 229.17L210.97 229.99M208.66 226.23L211.08 224.95M210.09 225.05L211.08 224.95L210.44 225.72M216.02 245.48L218.36 243.87M217.38 244.09L218.36 243.87L217.81 244.71M216.02 240.67L218.35 238.88M217.38 239.15L218.35 238.88L217.84 239.74M216.02 235.86L219.17 233.48M218.21 233.74L219.17 233.48L218.66 234.34M216.02 231.04L218.61 229.25M217.64 229.47L218.61 229.25L218.06 230.09M216.02 226.23L218.92 224.7M217.92 224.8L218.92 224.7L218.27 225.46M223.38 240.67L226.12 239.3M225.12 239.38L226.12 239.3L225.46 240.05M223.38 235.86L226.13 234.36M225.14 234.48L226.13 234.36L225.5 235.14M223.38 231.04L226.46 228.5M225.5 228.8L226.46 228.5L225.98 229.38M223.38 226.23L226.27 223.96M225.31 224.24L226.27 223.96L225.77 224.83M230.74 240.67L233.2 238.76M232.24 239.03L233.2 238.76L232.7 239.62M230.74 235.86L233.79 234.37M232.8 234.44L233.79 234.37L233.12 235.11M230.74 231.04L234.54 229.07M233.48 229.17L234.54 229.07L233.85 229.88M230.74 226.23L233.17 224.37M232.2 224.64L233.17 224.37L232.66 225.23M230.74 221.42L233.68 218.9M232.73 219.22L233.68 218.9L233.22 219.78M238.1 240.67L241 238.73M240.02 238.93L241 238.73L240.44 239.56M238.1 235.86L241.09 233.49M240.13 233.77L241.09 233.49L240.6 234.36M238.1 231.04L241.09 229.07M240.11 229.27L241.09 229.07L240.52 229.9M238.1 226.23L240.22 224.5M239.26 224.8L240.22 224.5L239.74 225.38M238.1 221.42L240.99 219.7M240 219.85L240.99 219.7L240.38 220.49M245.46 240.67L247.9 239.21M246.91 239.36L247.9 239.21L247.3 240M245.46 235.86L248.53 233.75M247.55 233.97L248.53 233.75L247.97 234.59M245.46 231.04L248.03 229.22M247.05 229.45L248.03 229.22L247.49 230.06M245.46 226.23L247.69 225.2M246.69 225.25L247.69 225.2L247.01 225.93M245.46 221.42L247.77 219.87M246.79 220.08L247.77 219.87L247.21 220.7M252.82 240.67L254.65 239.39M253.68 239.61L254.65 239.39L254.11 240.22M252.82 235.86L255.03 234.7M254.03 234.8L255.03 234.7L254.38 235.46M252.82 231.04L254.51 230.02M253.52 230.18L254.51 230.02L253.91 230.82M252.82 226.23L254.84 225.37M253.84 225.39L254.84 225.37L254.13 226.08M252.82 221.42L254.93 220.43M253.93 220.48L254.93 220.43L254.25 221.16M260.18 240.67L261.72 239.66M260.74 239.86L261.72 239.66L261.15 240.48M260.18 235.86L262.05 234.91M261.05 234.99L262.05 234.91L261.39 235.66M260.18 231.04L261.9 229.96M260.92 230.14L261.9 229.96L261.31 230.77M260.18 226.23L261.96 225.31M260.96 225.41L261.96 225.31L261.31 226.07M260.18 221.42L262.01 220.81M261.01 220.75L262.01 220.81L261.25 221.46M260.18 216.61L261.63 215.69M260.65 215.87L261.63 215.69L261.05 216.5M267.54 240.67L269.39 239.8M268.4 239.85L269.39 239.8L268.71 240.53M267.54 235.86L269.17 235.01M268.18 235.1L269.17 235.01L268.52 235.77M267.54 231.04L268.75 230.68M267.75 230.59L268.75 230.68L267.97 231.31M267.54 226.23L268.66 225.68M267.66 225.75L268.66 225.68L267.99 226.42M267.54 221.42L268.75 220.98M267.75 220.95L268.75 220.98L268 221.65M267.54 216.61L268.64 216.16M267.64 216.16L268.64 216.16L267.92 216.86M274.9 240.67L276.35 240.04M275.35 240.07L276.35 240.04L275.65 240.75M274.9 235.86L276.1 235.44M275.1 235.39L276.1 235.44L275.34 236.1M274.9 231.04L276.34 230.65M275.35 230.53L276.34 230.65L275.55 231.25M274.9 226.23L276.06 225.87M275.06 225.79L276.06 225.87L275.29 226.5M274.9 221.42L276.11 221.05M275.11 220.96L276.11 221.05L275.33 221.68M274.9 216.61L276.03 216.29M275.03 216.18L276.03 216.29L275.24 216.9M274.9 211.79L276.47 211.14M275.47 211.15L276.47 211.14L275.76 211.84M282.26 240.67L283.7 240.07M282.7 240.08L283.7 240.07L282.98 240.77M282.26 235.86L283.54 235.11M282.55 235.25L283.54 235.11L282.93 235.9M282.26 231.04L283.73 230.32M282.73 230.39L283.73 230.32L283.06 231.07M282.26 226.23L283.33 225.66M282.34 225.77L283.33 225.66L282.69 226.43M282.26 221.42L283.45 221.07M282.46 220.97L283.45 221.07L282.67 221.69M282.26 216.61L283.28 216.06M282.28 216.17L283.28 216.06L282.64 216.83M289.62 235.86L290.96 235.18M289.97 235.26L290.96 235.18L290.3 235.93M289.62 231.04L290.67 230.67M289.67 230.63L290.67 230.67L289.92 231.33M289.62 226.23L290.88 225.76M289.88 225.74L290.88 225.76L290.14 226.44M289.62 221.42L290.85 220.79M289.86 220.88L290.85 220.79L290.2 221.55M289.62 216.61L291.02 216.17M290.02 216.09L291.02 216.17L290.25 216.8M296.98 231.04L297.94 230.57M296.94 230.65L297.94 230.57L297.27 231.32M296.98 226.23L298.15 225.8M297.15 225.77L298.15 225.8L297.41 226.47M296.98 221.42L298.01 220.92M297.01 220.99L298.01 220.92L297.34 221.66M296.98 216.61L298.06 216.08M297.07 216.15L298.06 216.08L297.39 216.82M296.98 211.79L298.25 211.46M297.25 211.34L298.25 211.46L297.44 212.06" stroke="#0a0aff" stroke-width="0.5" stroke-opacity="0.6" fill="none" stroke-linecap="round"/>
<polyline points="40.5,253.5 40.5,252.5 40.5,251.5 41.5,250.5 41.5,249.5 42.5,248.5 44.5,248.5 45.5,247.5 46.5,247.5 47.5,247.5 48.5,246.5 49.5,246.5 50.5,246.5 51.5,245.5 52.5,244.5 52.5,243.5 53.5,242.5 54.5,242.5 54.5,241.5 55.5,240.5 55.5,239.5 55.5,238.5 55.5,237.5 55.5,236.5 56.5,235.5 57.5,234.5 58.5,233.5 59.5,233.5 61.5,233.5 62.5,232.5 63.5,232.5 64.5,231.5 65.5,231.5 66.5,231.5 67.5,232.5 69.5,232.5 70.5,233.5 71.5,232.5 72.5,232.5 72.5,231.5 73.5,230.5 74.5,230.5 75.5,229.5 76.5,229.5 77.5,229.5 77.5,228.5 78.5,227.5 79.5,227.5 79.5,226.5 80.5,225.5 81.5,225.5 81.5,224.5 82.5,224.5 83.5,223.5 84.5,223.5 85.5,223.5 86.5,222.5 87.5,222.5 88.5,222.5 89.5,221.5 90.5,220.5 91.5,220.5 92.5,219.5 93.5,218.5 93.5,217.5 93.5,216.5 94.5,216.5 94.5,215.5 95.5,214.5 96.5,214.5 97.5,214.5 98.5,213.5 99.5,213.5 100.5,212.5 101.5,212.5 102.5,212.5 103.5,211.5 104.5,211.5 106.5,211.5 107.5,211.5 108.5,210.5 109.5,209.5 110.5,208.5 111.5,209.5 112.5,208.5 113.5,209.5 114.5,208.5 115.5,209.5 116.5,209.5 117.5,209.5 118.5,210.5 119.5,210.5 120.5,210.5 121.5,210.5 122.5,210.5 123.5,211.5 124.5,211.5 125.5,211.5 126.5,210.5 127.5,210.5 128.5,210.5 129.5,209.5 130.5,209.5 131.5,209.5 132.5,209.5 133.5,209.5 134.5,209.5 135.5,209.5 135.5,208.5 136.5,208.5 137.5,208.5 138.5,208.5 139.5,207.5 140.5,207.5 141.5,207.5 142.5,207.5 143.5,208.5 144.5,207.5 146.5,207.5 147.5,206.5 148.5,206.5 149.5,206.5 150.5,206.5 151.5,207.5 152.5,207.5 153.5,208.5 154.5,207.5 155.5,208.5 156.5,208.5 157.5,207.5 158.5,207.5 159.5,208.5 160.5,208.5 161.5,208.5 162.5,208.5 163.5,208.5 164.5,208.5 165.5,208.5 166.5,209.5 167.5,209.5 168.5,209.5 169.5,209.5 170.5,209.5 171.5,209.5 172.5,209.5 173.5,209.5 173.5,210.5 174.5,210.5 175.5,210.5 176.5,210.5 177.5,211.5 178.5,212.5 179.5,212.5 179.5,213.5 180.5,214.5 180.5,215.5 181.5,215.5 181.5,216.5 182.5,217.5 182.5,216.5 183.5,215.5 184.5,215.5 185.5,214.5 186.5,214.5 187.5,214.5 188.5,215.5 189.5,215.5 190.5,215.5 190.5,216.5 191.5,217.5 191.5,216.5 192.5,215.5 194.5,214.5 194.5,215.5 195.5,215.5 196.5,216.5 197.5,217.5 198.5,218.5 198.5,219.5 199.5,220.5 200.5,220.5 201.5,220.5 202.5,220.5 203.5,220.5 204.5,220.5 205.5,220.5 206.5,219.5 207.5,219.5 208.5,219.5 208.5,220.5 209.5,221.5 211.5,222.5 212.5,222.5 213.5,222.5 214.5,222.5 215.5,222.5 216.5,222.5 217.5,221.5 217.5,220.5 217.5,219.5 218.5,219.5 219.5,218.5 219.5,219.5 220.5,219.5 221.5,220.5 222.5,220.5 223.5,220.5 224.5,219.5 225.5,219.5 226.5,219.5 227.5,219.5 228.5,219.5 228.5,218.5 229.5,217.5 230.5,217.5 231.5,217.5 232.5,216.5 233.5,217.5 234.5,218.5 235.5,217.5 236.5,217.5 237.5,217.5 238.5,217.5 239.5,217.5 240.5,217.5 241.5,217.5 242.5,216.5 243.5,216.5 244.5,216.5 245.5,216.5 246.5,216.5 247.5,216.5 248.5,215.5 249.5,215.5 250.5,215.5 252.5,215.5 253.5,215.5 253.5,214.5 254.5,214.5 255.5,214.5 256.5,214.5 257.5,213.5 258.5,213.5 259.5,213.5 260.5,213.5 261.5,213.5 262.5,212.5 264.5,212.5 265.5,212.5 266.5,212.5 267.5,212.5 267.5,211.5 268.5,211.5 269.5,211.5 270.5,211.5 271.5,210.5 272.5,210.5 273.5,209.5 274.5,208.5 275.5,208.5 276.5,208.5 276.5,209.5 277.5,210.5 278.5,211.5 279.5,211.5 280.5,211.5 281.5,210.5 282.5,210.5 283.5,210.5 284.5,210.5 285.5,210.5 286.5,210.5 287.5,211.5 288.5,210.5 289.5,210.5 290.5,210.5 291.5,209.5 292.5,209.5 293.5,209.5 294.5,208.5 295.5,208.5 296.5,208.5 297.5,207.5 298.5,206.5 299.5,205.5 300.5,204.5 301.5,203.5 302.5,203.5 303.5,202.5 304.5,202.5 305.5,201.5 306.5,201.5 307.5,201.5 308.5,201.5 309.5,200.5 310.5,200.5 310.5,199.5 311.5,199.5" stroke="#303030" stroke-width="1.05" fill="none" stroke-linejoin="round"/>
<polyline points="149.5,277.5 148.5,277.5 148.5,276.5 147.5,276.5 146.5,275.5 144.5,275.5 143.5,275.5 143.5,274.5 142.5,274.5 141.5,272.5 142.5,272.5 143.5,271.5 143.5,270.5 144.5,270.5 145.5,269.5 146.5,268.5 147.5,267.5 148.5,267.5 149.5,267.5 150.5,268.5 152.5,268.5 153.5,269.5 154.5,268.5 155.5,268.5 156.5,268.5 157.5,267.5 157.5,266.5 158.5,266.5 159.5,266.5 160.5,265.5 161.5,265.5 162.5,264.5 163.5,264.5 164.5,264.5 165.5,263.5 166.5,263.5 167.5,263.5 168.5,261.5 168.5,260.5 168.5,259.5 168.5,258.5 169.5,257.5 169.5,256.5 170.5,255.5 170.5,253.5 171.5,253.5 172.5,252.5 173.5,251.5 174.5,251.5 175.5,251.5 176.5,251.5 177.5,251.5 178.5,251.5 179.5,251.5 180.5,251.5 181.5,252.5 182.5,252.5 182.5,253.5 183.5,254.5 184.5,254.5 185.5,253.5 186.5,253.5 187.5,253.5 187.5,252.5 188.5,252.5 189.5,251.5 190.5,251.5 191.5,251.5 192.5,251.5 193.5,251.5 194.5,251.5 195.5,251.5 196.5,250.5 197.5,250.5 198.5,250.5 199.5,250.5 200.5,249.5 201.5,249.5 202.5,250.5 203.5,250.5 204.5,250.5 205.5,250.5 206.5,250.5 207.5,249.5 208.5,249.5 208.5,250.5 209.5,249.5 210.5,249.5 211.5,249.5 212.5,249.5 213.5,249.5 214.5,249.5 215.5,249.5 216.5,248.5 217.5,248.5 218.5,247.5 219.5,247.5 220.5,246.5 221.5,246.5 222.5,247.5 223.5,246.5 224.5,246.5 225.5,246.5 226.5,246.5 227.5,245.5 228.5,246.5 229.5,245.5 230.5,246.5 231.5,245.5 232.5,245.5 233.5,245.5 234.5,246.5 235.5,246.5 236.5,246.5 237.5,245.5 238.5,246.5 239.5,246.5 240.5,246.5 242.5,247.5 242.5,246.5 243.5,246.5 244.5,246.5 245.5,246.5 246.5,245.5 247.5,245.5 248.5,246.5 248.5,245.5 249.5,246.5 250.5,245.5 251.5,246.5 252.5,246.5 253.5,245.5 254.5,245.5 255.5,245.5 256.5,245.5 257.5,245.5 257.5,244.5 258.5,244.5 259.5,245.5 260.5,245.5 261.5,244.5 262.5,244.5 263.5,244.5 264.5,243.5 265.5,243.5 266.5,244.5 267.5,244.5 268.5,244.5 269.5,245.5 270.5,245.5 271.5,245.5 272.5,244.5 272.5,243.5 273.5,243.5 274.5,242.5 275.5,242.5 276.5,242.5 277.5,241.5 278.5,241.5 279.5,242.5 280.5,242.5 281.5,242.5 282.5,242.5 283.5,242.5 284.5,241.5 285.5,241.5 286.5,240.5 287.5,240.5 288.5,240.5 289.5,240.5 290.5,239.5 291.5,239.5 292.5,239.5 292.5,238.5 293.5,238.5 294.5,237.5 295.5,236.5 296.5,236.5 297.5,236.5 298.5,236.5 299.5,236.5 299.5,235.5 300.5,235.5 301.5,235.5 302.5,235.5 303.5,235.5 304.5,235.5 305.5,235.5 305.5,234.5 306.5,234.5 307.5,233.5 308.5,233.5 309.5,232.5 310.5,231.5" stroke="#303030" stroke-width="1.05" fill="none" stroke-linejoin="round"/>
<path d="M253 239L185 239" stroke="#111" stroke-width="1.8" fill="none"/><path d="M180.5 239L186 236.5L186 241.5Z" fill="#111"/>
<path d="M177.7 239L147.43 233.68" stroke="#111" stroke-width="1.8" fill="none"/><path d="M143 232.9L148.85 231.39L147.98 236.31Z" fill="#111"/>
<text x="30.8" y="198.2" text-anchor="end" font-size="9.3" fill="#000">-1.06</text>
<text x="30.8" y="229.5" text-anchor="end" font-size="9.3" fill="#000">-1.08</text>
<text x="30.8" y="260.8" text-anchor="end" font-size="9.3" fill="#000">-1.1</text>
<text x="30.8" y="292.1" text-anchor="end" font-size="9.3" fill="#000">-1.12</text>
<text x="30.8" y="323.4" text-anchor="end" font-size="9.3" fill="#000">-1.14</text>
<text x="34" y="332" text-anchor="middle" font-size="9.3" fill="#000">-10.4</text>
<text x="70.46" y="332" text-anchor="middle" font-size="9.3" fill="#000">-10.2</text>
<text x="106.92" y="332" text-anchor="middle" font-size="9.3" fill="#000">-10</text>
<text x="143.39" y="332" text-anchor="middle" font-size="9.3" fill="#000">-9.8</text>
<text x="179.85" y="332" text-anchor="middle" font-size="9.3" fill="#000">-9.6</text>
<text x="216.31" y="332" text-anchor="middle" font-size="9.3" fill="#000">-9.4</text>
<text x="252.77" y="332" text-anchor="middle" font-size="9.3" fill="#000">-9.2</text>
<text x="289.24" y="332" text-anchor="middle" font-size="9.3" fill="#000">-9</text>
<text x="325.7" y="332" text-anchor="middle" font-size="9.3" fill="#000">-8.8</text>
<text x="179.85" y="343.9" text-anchor="middle" font-size="10.6" fill="#111">x [m]</text>
<text transform="translate(8.2 256.9) rotate(-90)" text-anchor="middle" font-size="10.6" fill="#111">y [m]</text>
<text x="34.1" y="194.2" font-size="13" fill="#666">×</text><text x="42.4" y="192.8" font-size="9.6" fill="#333">10</text><text x="51.7" y="188.5" font-size="7.2" fill="#333">5</text>
<text x="305" y="346.1" font-size="13" fill="#666">×</text><text x="313.3" y="344.7" font-size="9.6" fill="#333">10</text><text x="322.6" y="340.4" font-size="7.2" fill="#333">4</text>
<text x="133.4" y="359.9" font-size="12.2" fill="#111" textLength="72" lengthAdjust="spacing">(c) 12 h – 13 h</text>
<line x1="418.73" y1="194.9" x2="418.73" y2="319" stroke="#555" stroke-width="0.8" stroke-dasharray="2 1.6"/>
<line x1="455.15" y1="194.9" x2="455.15" y2="319" stroke="#ececec" stroke-width="0.8" stroke-dasharray="1.5 1.5"/>
<line x1="491.58" y1="194.9" x2="491.58" y2="319" stroke="#555" stroke-width="0.8" stroke-dasharray="2 1.6"/>
<line x1="528" y1="194.9" x2="528" y2="319" stroke="#d0d0d0" stroke-width="0.8" stroke-dasharray="1.5 1.5"/>
<line x1="564.43" y1="194.9" x2="564.43" y2="319" stroke="#ececec" stroke-width="0.8" stroke-dasharray="1.5 1.5"/>
<line x1="600.85" y1="194.9" x2="600.85" y2="319" stroke="#555" stroke-width="0.8" stroke-dasharray="2 1.6"/>
<line x1="637.28" y1="194.9" x2="637.28" y2="319" stroke="#999" stroke-width="0.8" stroke-dasharray="1.8 1.6"/>
<line x1="382.3" y1="225.93" x2="673.7" y2="225.93" stroke="#999" stroke-width="0.8" stroke-dasharray="1.8 1.6"/>
<line x1="382.3" y1="256.95" x2="673.7" y2="256.95" stroke="#999" stroke-width="0.8" stroke-dasharray="1.8 1.6"/>
<line x1="382.3" y1="287.98" x2="673.7" y2="287.98" stroke="#d0d0d0" stroke-width="0.8" stroke-dasharray="1.5 1.5"/>
<line x1="382.3" y1="194.9" x2="673.7" y2="194.9" stroke="#d8d8d8" stroke-width="1"/>
<line x1="382.3" y1="194.9" x2="382.3" y2="319" stroke="#e0e0e0" stroke-width="1"/>
<line x1="673.7" y1="194.9" x2="673.7" y2="319" stroke="#e6e6e6" stroke-width="1"/>
<line x1="382.3" y1="319" x2="673.7" y2="319" stroke="#ddd" stroke-width="1.1"/>
<path d="M391.41 194.9v2M391.41 319v-2M400.51 194.9v2M400.51 319v-2M409.62 194.9v2M409.62 319v-2M418.73 194.9v2M418.73 319v-2M427.83 194.9v2M427.83 319v-2M436.94 194.9v2M436.94 319v-2M446.04 194.9v2M446.04 319v-2M455.15 194.9v2M455.15 319v-2M464.26 194.9v2M464.26 319v-2M473.36 194.9v2M473.36 319v-2M482.47 194.9v2M482.47 319v-2M491.58 194.9v2M491.58 319v-2M500.68 194.9v2M500.68 319v-2M509.79 194.9v2M509.79 319v-2M518.89 194.9v2M518.89 319v-2M528 194.9v2M528 319v-2M537.11 194.9v2M537.11 319v-2M546.21 194.9v2M546.21 319v-2M555.32 194.9v2M555.32 319v-2M564.43 194.9v2M564.43 319v-2M573.53 194.9v2M573.53 319v-2M582.64 194.9v2M582.64 319v-2M591.74 194.9v2M591.74 319v-2M600.85 194.9v2M600.85 319v-2M609.96 194.9v2M609.96 319v-2M619.06 194.9v2M619.06 319v-2M628.17 194.9v2M628.17 319v-2M637.28 194.9v2M637.28 319v-2M646.38 194.9v2M646.38 319v-2M655.49 194.9v2M655.49 319v-2M664.59 194.9v2M664.59 319v-2M382.3 202.66h2M673.7 202.66h-2M382.3 210.41h2M673.7 210.41h-2M382.3 218.17h2M673.7 218.17h-2M382.3 225.93h2M673.7 225.93h-2M382.3 233.68h2M673.7 233.68h-2M382.3 241.44h2M673.7 241.44h-2M382.3 249.19h2M673.7 249.19h-2M382.3 256.95h2M673.7 256.95h-2M382.3 264.71h2M673.7 264.71h-2M382.3 272.46h2M673.7 272.46h-2M382.3 280.22h2M673.7 280.22h-2M382.3 287.98h2M673.7 287.98h-2M382.3 295.73h2M673.7 295.73h-2M382.3 303.49h2M673.7 303.49h-2M382.3 311.24h2M673.7 311.24h-2" stroke="#888" stroke-width="0.75" fill="none"/>
<path d="M424.43 298.1L425.86 306.19M426.29 304.18L425.86 306.19L424.77 304.45M424.43 293.33L427.31 303.16M427.57 300.61L427.31 303.16L425.72 301.15M424.43 288.56L424.86 299.14M425.75 296.65L424.86 299.14L423.77 296.73M424.43 283.79L426.11 292.99M426.58 290.7L426.11 292.99L424.86 291.02M424.43 279.02L425.96 289.78M426.62 287.14L425.96 289.78L424.6 287.43M424.43 274.25L424.14 283.11M425.04 281.09L424.14 283.11L423.38 281.03M424.43 269.48L425.26 279.21M425.98 276.88L425.26 279.21L424.16 277.03M424.43 264.71L425.34 272.9M425.9 270.92L425.34 272.9L424.36 271.09M424.43 259.94L423.8 268.69M424.76 266.72L423.8 268.69L423.12 266.6M424.43 255.17L423.14 263.51M424.22 261.7L423.14 263.51L422.66 261.46M424.43 250.4L422.66 256.88M423.68 255.54L422.66 256.88L422.47 255.21M424.43 245.63L423.46 250.27M424.12 249.29L423.46 250.27L423.25 249.1M424.43 240.86L422.1 246.17M423.14 245.15L422.1 246.17L422.14 244.72M424.43 236.09L422.99 239.53M423.7 238.82L422.99 239.53L423 238.54M431.78 298.1L433.95 307.59M434.34 305.18L433.95 307.59L432.56 305.59M431.78 293.33L434.57 302.32M434.76 299.97L434.57 302.32L433.08 300.49M431.78 288.56L433.13 297.56M433.66 295.35L433.13 297.56L431.97 295.6M431.78 283.79L433.66 291.46M433.95 289.51L433.66 291.46L432.51 289.86M431.78 279.02L432.23 290.05M433.16 287.45L432.23 290.05L431.09 287.53M431.78 274.25L431.72 284.58M432.7 282.19L431.72 284.58L430.77 282.18M431.78 269.48L430.38 278.95M431.59 276.89L430.38 278.95L429.82 276.62M431.78 264.71L433 274.6M433.64 272.19L433 274.6L431.79 272.42M431.78 259.94L432.25 268.94M432.98 266.81L432.25 268.94L431.3 266.9M431.78 255.17L431.24 263M432.1 261.24L431.24 263L430.63 261.13M431.78 250.4L429.68 256.19M430.71 255.05L429.68 256.19L429.63 254.65M431.78 245.63L430.7 251.33M431.48 250.11L430.7 251.33L430.42 249.91M431.78 240.86L430.12 245.48M430.94 244.56L430.12 245.48L430.07 244.25M431.78 236.09L429.83 240.49M430.69 239.65L429.83 240.49L429.87 239.29M431.78 231.32L429.76 234.37M430.58 233.8L429.76 234.37L429.96 233.39M431.78 226.55L429.67 229.13M430.54 228.65L429.67 229.13L429.97 228.17M439.14 298.1L441.1 308.02M441.58 305.53L441.1 308.02L439.72 305.9M439.14 293.33L440.63 301.28M441.03 299.3L440.63 301.28L439.54 299.58M439.14 288.56L441.29 297.44M441.62 295.18L441.29 297.44L439.96 295.58M439.14 283.79L440.73 291.45M441.07 289.52L440.73 291.45L439.64 289.82M439.14 279.02L439.36 287.11M440.07 285.21L439.36 287.11L438.55 285.25M439.14 274.25L438.37 281.97M439.27 280.25L438.37 281.97L437.83 280.11M439.14 269.48L436.68 276.12M437.87 274.81L436.68 276.12L436.63 274.35M439.14 264.71L434.64 273.02M436.46 271.51L434.64 273.02L434.91 270.67M439.14 259.94L434.41 267.15M436.18 265.92L434.41 267.15L434.83 265.04M439.14 255.17L435.23 260.85M436.67 259.9L435.23 260.85L435.6 259.17M439.14 250.4L435.87 255.8M437.13 254.85L435.87 255.8L436.12 254.24M439.14 245.63L436.22 250.3M437.34 249.49L436.22 250.3L436.46 248.94M439.14 240.86L436.86 244.58M437.73 243.93L436.86 244.58L437.04 243.5M439.14 236.09L436.79 239.06M437.66 238.56L436.79 239.06L437.07 238.1M439.14 231.32L436.65 234.08M437.55 233.65L436.65 234.08L436.99 233.14M439.14 226.55L436.99 228.78M437.9 228.38L436.99 228.78L437.36 227.86M446.49 298.1L450.35 306.86M450.28 304.47L450.35 306.86L448.63 305.19M446.49 293.33L449.09 301.68M449.27 299.5L449.09 301.68L447.71 299.99M446.49 288.56L446.74 296.92M447.46 294.96L446.74 296.92L445.9 295M446.49 283.79L446.84 292.25M447.55 290.26L446.84 292.25L445.96 290.32M446.49 279.02L446.69 286.56M447.35 284.79L446.69 286.56L445.94 284.83M446.49 274.25L442.53 283.19M444.28 281.49L442.53 283.19L442.61 280.75M446.49 269.48L442.33 275.87M443.89 274.78L442.33 275.87L442.7 274M446.49 264.71L439.91 271.38M442.06 270.45L439.91 271.38L440.81 269.22M446.49 259.94L441.07 266.59M442.95 265.56L441.07 266.59L441.71 264.54M446.49 255.17L438.74 262.54M441.22 261.56L438.74 262.54L439.84 260.11M446.49 250.4L442.77 255.08M444.07 254.34L442.77 255.08L443.19 253.64M446.49 245.63L443.17 248.87M444.25 248.43L443.17 248.87L443.64 247.81M446.49 240.86L442.95 243.87M444.05 243.5L442.95 243.87L443.49 242.84M446.49 236.09L443.07 239.65M444.2 239.15L443.07 239.65L443.53 238.51M446.49 231.32L443.09 234.28M444.16 233.91L443.09 234.28L443.6 233.28M446.49 226.55L443.09 229.07M444.12 228.8L443.09 229.07L443.64 228.17M446.49 221.78L442.54 223.05M443.58 223.12L442.54 223.05L443.34 222.39M446.49 217.01L442.51 218.77M443.59 218.73L442.51 218.77L443.26 217.99M453.84 298.1L457.5 306.96M457.48 304.56L457.5 306.96L455.83 305.25M453.84 293.33L455.29 302.66M455.83 300.36L455.29 302.66L454.08 300.64M453.84 288.56L453.12 297.39M454.11 295.41L453.12 297.39L452.46 295.28M453.84 283.79L453.3 292.7M454.26 290.69L453.3 292.7L452.59 290.58M453.84 279.02L449.08 287.39M450.97 285.89L449.08 287.39L449.4 285M453.84 274.25L447.61 282.23M449.8 280.96L447.61 282.23L448.31 279.79M453.84 269.48L447.33 276.75M449.52 275.68L447.33 276.75L448.16 274.46M453.84 264.71L447.24 272.7M449.52 271.46L447.24 272.7L448.02 270.23M453.84 259.94L447.46 266.34M449.54 265.45L447.46 266.34L448.34 264.26M453.84 255.17L448.41 261.33M450.24 260.41L448.41 261.33L449.09 259.39M453.84 250.4L448.01 255.14M449.8 254.59L448.01 255.14L448.91 253.5M453.84 245.63L449.92 249.37M451.18 248.87L449.92 249.37L450.48 248.14M453.84 240.86L450.78 243.98M451.78 243.54L450.78 243.98L451.2 242.97M453.84 236.09L450.67 238.88M451.67 238.53L450.67 238.88L451.15 237.93M453.84 231.32L450.61 234.92M451.7 234.39L450.61 234.92L451.02 233.78M453.84 226.55L449.95 229.88M451.16 229.47L449.95 229.88L450.54 228.75M453.84 221.78L449.58 223.95M450.77 223.84L449.58 223.95L450.37 223.05M453.84 217.01L449.79 219.75M450.99 219.49L449.79 219.75L450.47 218.73M461.19 298.1L460.26 306.67M461.28 304.77L460.26 306.67L459.67 304.6M461.19 293.33L462.03 300.86M462.54 299.03L462.03 300.86L461.13 299.19M461.19 288.56L460.84 298.04M461.81 295.87L460.84 298.04L460.03 295.81M461.19 283.79L458.74 293.82M460.25 291.72L458.74 293.82L458.37 291.26M461.19 279.02L456.35 286.61M458.18 285.3L456.35 286.61L456.76 284.39M461.19 274.25L455.53 281.75M457.55 280.54L455.53 281.75L456.14 279.48M461.19 269.48L454.6 277.27M456.86 276.08L454.6 277.27L455.4 274.85M461.19 264.71L454.22 270.91M456.42 270.12L454.22 270.91L455.26 268.82M461.19 259.94L453.55 265.18M455.81 264.68L453.55 265.18L454.83 263.25M461.19 255.17L454.46 261.14M456.58 260.39L454.46 261.14L455.46 259.13M461.19 250.4L457.05 254.04M458.35 253.58L457.05 254.04L457.67 252.81M461.19 245.63L457.01 248.32M458.23 248.09L457.01 248.32L457.73 247.3M461.19 240.86L456.62 243.22M457.9 243.1L456.62 243.22L457.46 242.24M461.19 236.09L456.35 239.66M457.81 239.29L456.35 239.66L457.14 238.38M461.19 231.32L457.05 234.23M458.29 233.94L457.05 234.23L457.74 233.17M461.19 226.55L456.48 230.15M457.91 229.76L456.48 230.15L457.24 228.87M461.19 221.78L456.76 223.98M458 223.88L456.76 223.98L457.58 223.05M461.19 217.01L457.59 219.27M458.64 219.08L457.59 219.27L458.22 218.41M461.19 212.24L456.05 214.49M457.45 214.45L456.05 214.49L457.03 213.48M468.55 298.1L468.84 307.47M469.65 305.27L468.84 307.47L467.9 305.33M468.55 293.33L466.79 303.99M468.2 301.69L466.79 303.99L466.2 301.36M468.55 288.56L465.33 298.89M467.05 296.79L465.33 298.89L465.11 296.19M468.55 283.79L466.27 294.54M467.8 292.26L466.27 294.54L465.79 291.84M468.55 279.02L465.47 286.5M466.88 285.06L465.47 286.5L465.48 284.48M468.55 274.25L462.93 281.88M464.95 280.63L462.93 281.88L463.52 279.58M468.55 269.48L463.79 276.27M465.53 275.14L463.79 276.27L464.26 274.25M468.55 264.71L461.56 271.3M463.79 270.43L461.56 271.3L462.56 269.12M468.55 259.94L461.77 264.5M463.77 264.07L461.77 264.5L462.92 262.81M468.55 255.17L463.18 260.75M464.95 259.96L463.18 260.75L463.9 258.95M468.55 250.4L463.06 253.96M464.66 253.65L463.06 253.96L464 252.62M468.55 245.63L463.9 248.65M465.26 248.38L463.9 248.65L464.69 247.51M468.55 240.86L464.93 243.69M466.04 243.37L464.93 243.69L465.51 242.7M468.55 236.09L463.31 239.54M464.85 239.23L463.31 239.54L464.2 238.25M468.55 231.32L463.89 234.81M465.3 234.43L463.89 234.81L464.65 233.56M468.55 226.55L463.75 228.71M465.07 228.66L463.75 228.71L464.66 227.76M468.55 221.78L464.01 223.11M465.19 223.23L464.01 223.11L464.94 222.38M468.55 217.01L463.43 217.83M464.69 218.12L463.43 217.83L464.54 217.16M475.9 298.1L475.63 308.34M476.65 305.99L475.63 308.34L474.74 305.94M475.9 293.33L476.12 301.92M476.88 299.91L476.12 301.92L475.27 299.95M475.9 288.56L475.46 299.17M476.56 296.75L475.46 299.17L474.57 296.67M475.9 283.79L474.83 291.92M475.84 290.14L474.83 291.92L474.31 289.94M475.9 279.02L471.32 286.92M473.12 285.52L471.32 286.92L471.64 284.66M475.9 274.25L469.58 281.54M471.73 280.44L469.58 281.54L470.36 279.26M475.9 269.48L471.62 275.96M473.22 274.86L471.62 275.96L472 274.06M475.9 264.71L468.66 272.06M471.02 271.04L468.66 272.06L469.65 269.68M475.9 259.94L469.07 266.45M471.26 265.58L469.07 266.45L470.04 264.3M475.9 255.17L471.1 259.51M472.62 258.95L471.1 259.51L471.81 258.05M475.9 250.4L470.75 253.43M472.23 253.21L470.75 253.43L471.66 252.25M475.9 245.63L470.37 249.94M472.05 249.46L470.37 249.94L471.25 248.42M475.9 240.86L470.63 244.6M472.2 244.22L470.63 244.6L471.5 243.24M475.9 236.09L471.15 238.35M472.47 238.27L471.15 238.35L472.04 237.38M475.9 231.32L470.3 233.25M471.78 233.33L470.3 233.25L471.42 232.28M475.9 226.55L470.85 227.83M472.14 228.01L470.85 227.83L471.9 227.06M475.9 221.78L471.36 223.2M472.54 223.3L471.36 223.2L472.28 222.45M475.9 217.01L469.89 217.45M471.32 217.91L469.89 217.45L471.24 216.78M483.25 298.1L482.06 306.35M483.11 304.55L482.06 306.35L481.57 304.32M483.25 293.33L483.36 303.27M484.27 300.95L483.36 303.27L482.41 300.97M483.25 288.56L481.45 297.59M482.71 295.67L481.45 297.59L481.02 295.33M483.25 283.79L481.12 292.15M482.39 290.41L481.12 292.15L480.83 290.01M483.25 279.02L481.29 286.03M482.4 284.59L481.29 286.03L481.09 284.22M483.25 274.25L479.79 281.97M481.32 280.51L479.79 281.97L479.87 279.86M483.25 269.48L478.25 275.06M479.93 274.24L478.25 275.06L478.89 273.3M483.25 264.71L477.01 270.37M478.99 269.64L477.01 270.37L477.93 268.47M483.25 259.94L478.28 265.6M479.96 264.76L478.28 265.6L478.9 263.82M483.25 255.17L478.09 260.29M479.77 259.59L478.09 260.29L478.81 258.62M483.25 250.4L476.4 255.49M478.46 254.95L476.4 255.49L477.51 253.67M483.25 245.63L476.96 249.72M478.8 249.36L476.96 249.72L478.04 248.18M483.25 240.86L476.72 244.28M478.55 244.1L476.72 244.28L477.91 242.87M483.25 236.09L477.74 239.82M479.37 239.47L477.74 239.82L478.67 238.44M483.25 231.32L478.22 233.18M479.56 233.22L478.22 233.18L479.21 232.28M483.25 226.55L478.39 228.58M479.71 228.56L478.39 228.58L479.33 227.65M483.25 221.78L478.72 223.11M479.89 223.23L478.72 223.11L479.64 222.38M483.25 217.01L478.75 218.61M479.94 218.66L478.75 218.61L479.64 217.81M483.25 212.24L477.9 213.87M479.29 213.99L477.9 213.87L478.99 212.99M490.6 298.1L490.43 304.95M491.12 303.38L490.43 304.95L489.83 303.35M490.6 293.33L491.28 299.88M491.73 298.3L491.28 299.88L490.51 298.43M490.6 288.56L491.59 297.39M492.19 295.25L491.59 297.39L490.54 295.44M490.6 283.79L489.68 291.28M490.59 289.63L489.68 291.28L489.19 289.45M490.6 279.02L489.85 286.54M490.73 284.87L489.85 286.54L489.32 284.72M490.6 269.48L486.64 275.23M488.09 274.27L486.64 275.23L487.02 273.52M490.6 264.71L485.48 269.52M487.12 268.88L485.48 269.52L486.22 267.92M490.6 259.94L485.24 263.82M486.84 263.43L485.24 263.82L486.12 262.42M490.6 255.17L485.07 260.05M486.81 259.44L485.07 260.05L485.89 258.4M490.6 250.4L484.84 254.78M486.58 254.31L484.84 254.78L485.76 253.22M490.6 245.63L483.69 249.59M485.66 249.32L483.69 249.59L484.92 248.03M490.6 240.86L482.87 244.23M484.98 244.17L482.87 244.23L484.35 242.72M490.6 236.09L484.8 239.47M486.46 239.23L484.8 239.47L485.83 238.14M490.6 231.32L484.77 234.71M486.44 234.47L484.77 234.71L485.8 233.38M490.6 226.55L484.6 229.74M486.29 229.56L484.6 229.74L485.7 228.44M490.6 221.78L485.14 223.53M486.57 223.63L485.14 223.53L486.24 222.61M490.6 217.01L485.6 218.13M486.86 218.34L485.6 218.13L486.65 217.4M490.6 212.24L485.47 213.61M486.79 213.77L485.47 213.61L486.53 212.81M497.96 298.1L499.77 303.49M499.85 302.07L499.77 303.49L498.84 302.41M497.96 293.33L500.23 297.76M500.12 296.52L500.23 297.76L499.29 296.94M497.96 288.56L498.88 293.15M499.1 292L498.88 293.15L498.24 292.17M497.96 283.79L499.45 288.2M499.52 287.04L499.45 288.2L498.69 287.32M497.96 264.71L493.38 268.94M494.83 268.39L493.38 268.94L494.04 267.53M497.96 259.94L492.57 264.5M494.25 263.95L492.57 264.5L493.39 262.94M497.96 255.17L492.79 259.71M494.41 259.14L492.79 259.71L493.56 258.17M497.96 250.4L492.29 254.47M493.98 254.05L492.29 254.47L493.22 252.99M497.96 245.63L492.32 248.54M493.9 248.39L492.32 248.54L493.36 247.34M497.96 240.86L492.35 244.19M493.96 243.94L492.35 244.19L493.34 242.89M497.96 236.09L490.83 239.01M492.75 239L490.83 239.01L492.21 237.67M497.96 231.32L491.06 233.26M492.84 233.45L491.06 233.26L492.48 232.16M497.96 226.55L492.96 228.18M494.27 228.27L492.96 228.18L493.97 227.33M497.96 221.78L493.03 222.44M494.23 222.75L493.03 222.44L494.11 221.83M497.96 217.01L491.85 218.4M493.39 218.65L491.85 218.4L493.13 217.51M497.96 212.24L492.4 213.24M493.78 213.53L492.4 213.24L493.59 212.49M505.31 298.1L507.51 302.53M507.42 301.29L507.51 302.53L506.59 301.71M505.31 293.33L507.76 297.72M507.61 296.48L507.76 297.72L506.78 296.93M505.31 288.56L507.86 292.43M507.63 291.29L507.86 292.43L506.91 291.77M505.31 283.79L506.46 287.56M506.55 286.56L506.46 287.56L505.83 286.78M505.31 279.02L506.37 283.9M506.58 282.67L506.37 283.9L505.66 282.87M505.31 264.71L502.16 269.2M503.31 268.46L502.16 269.2L502.47 267.87M505.31 259.94L501.1 264.37M502.49 263.74L501.1 264.37L501.66 262.95M505.31 255.17L500.18 259.28M501.75 258.8L500.18 259.28L500.99 257.84M505.31 250.4L500.54 253.92M501.97 253.55L500.54 253.92L501.31 252.66M505.31 245.63L499.44 249.96M501.21 249.51L499.44 249.96L500.4 248.41M505.31 240.86L498.65 244.29M500.52 244.12L498.65 244.29L499.87 242.87M505.31 236.09L499.2 239.2M500.91 239.05L499.2 239.2L500.32 237.9M505.31 231.32L499.44 232.45M500.91 232.73L499.44 232.45L500.7 231.64M505.31 226.55L499.69 227.91M501.12 228.12L499.69 227.91L500.87 227.07M505.31 221.78L498.43 221.64M500.02 222.32L498.43 221.64L500.04 221.03M505.31 217.01L499.78 218.14M501.17 218.39L499.78 218.14L500.96 217.36M505.31 212.24L498.58 212.91M500.2 213.39L498.58 212.91L500.08 212.13M512.66 298.1L514.57 300.8M514.34 299.83L514.57 300.8L513.73 300.26M512.66 293.33L514.2 296.4M514.12 295.4L514.2 296.4L513.45 295.74M512.66 288.56L514.04 292.05M514.05 291.05L514.04 292.05L513.35 291.33M512.66 283.79L514.83 287.93M514.72 286.77L514.83 287.93L513.94 287.18M512.66 279.02L513.48 283.66M513.72 282.51L513.48 283.66L512.86 282.66M512.66 259.94L507.35 264.02M508.96 263.57L507.35 264.02L508.2 262.57M512.66 255.17L508.31 259.09M509.68 258.59L508.31 259.09L508.95 257.78M512.66 250.4L506.19 254.13M508.04 253.87L506.19 254.13L507.34 252.66M512.66 245.63L505.69 248.25M507.55 248.29L505.69 248.25L507.06 246.99M512.66 240.86L505.96 242.76M507.69 242.95L505.96 242.76L507.34 241.69M512.66 236.09L506.47 238.29M508.11 238.36L506.47 238.29L507.7 237.2M512.66 231.32L507.59 232.21M508.85 232.48L507.59 232.21L508.68 231.53M512.66 226.55L506.76 227.23M508.19 227.63L506.76 227.23L508.06 226.52M512.66 221.78L505.72 223.04M507.44 223.4L505.72 223.04L507.21 222.1M512.66 217.01L506.15 218.44M507.79 218.71L506.15 218.44L507.52 217.49M512.66 212.24L506.21 212.55M507.73 213.08L506.21 212.55L507.67 211.87M520.02 250.4L514.45 252.22M515.91 252.32L514.45 252.22L515.57 251.28M520.02 245.63L512.54 247.37M514.43 247.67L512.54 247.37L514.11 246.27M520.02 240.86L513.71 243.05M515.38 243.13L513.71 243.05L514.97 241.95M520.02 236.09L514.85 237.77M516.21 237.86L514.85 237.77L515.89 236.9M520.02 231.32L514.29 233.31M515.8 233.39L514.29 233.31L515.43 232.31M520.02 226.55L514.53 228.23M515.96 228.35L514.53 228.23L515.64 227.32M520.02 221.78L513.48 222.49M515.06 222.94L513.48 222.49L514.93 221.72M520.02 217.01L514.62 218.23M515.99 218.45L514.62 218.23L515.76 217.44M527.37 245.63L521.06 247.45M522.7 247.62L521.06 247.45L522.35 246.44M527.37 240.86L520.16 243.09M522.04 243.25L520.16 243.09L521.62 241.9M527.37 236.09L521.46 236.93M522.91 237.29L521.46 236.93L522.75 236.18M527.37 231.32L521.94 232.31M523.29 232.59L521.94 232.31L523.11 231.58M527.37 226.55L521.41 226.79M522.81 227.29L521.41 226.79L522.77 226.18M527.37 221.78L520.88 221.9M522.39 222.48L520.88 221.9L522.37 221.26M527.37 217.01L521.77 217.26M523.09 217.73L521.77 217.26L523.05 216.68M534.72 250.4L528.58 252.23M530.18 252.38L528.58 252.23L529.83 251.23M534.72 245.63L527.86 246.64M529.55 247.05L527.86 246.64L529.36 245.77M534.72 240.86L529.44 242.35M530.8 242.5L529.44 242.35L530.52 241.51M534.72 236.09L528.89 237.67M530.39 237.85L528.89 237.67L530.09 236.76M534.72 231.32L529.39 232.22M530.71 232.51L529.39 232.22L530.54 231.51M534.72 226.55L528.88 226.42M530.22 227L528.88 226.42L530.25 225.91M534.72 221.78L528.28 222.56M529.85 222.98L528.28 222.56L529.7 221.78M534.72 217.01L528.56 217.2M530.01 217.73L528.56 217.2L529.97 216.58M542.07 245.63L536.01 247.01M537.55 247.26L536.01 247.01L537.29 246.12M542.07 240.86L536.73 242.31M538.1 242.47L536.73 242.31L537.83 241.47M542.07 236.09L534.47 236.55M536.28 237.15L534.47 236.55L536.19 235.73M542.07 231.32L536.58 231.49M537.87 231.97L536.58 231.49L537.84 230.94M542.07 226.55L534.4 226.7M536.19 227.38L534.4 226.7L536.17 225.95M542.07 221.78L536.4 221.9M537.73 222.4L536.4 221.9L537.71 221.34M549.43 245.63L543.1 246.9M544.69 247.2L543.1 246.9L544.45 246.02M549.43 240.86L542.92 242.51M544.59 242.74L542.92 242.51L544.28 241.52M549.43 236.09L541.93 236.67M543.73 237.24L541.93 236.67L543.62 235.84M549.43 231.32L542.67 231.24M544.23 231.89L542.67 231.24L544.25 230.62M549.43 226.55L542.7 227.59M544.36 227.98L542.7 227.59L544.17 226.72M556.78 245.63L551.05 246.98M552.5 247.2L551.05 246.98L552.25 246.13M556.78 240.86L551.39 241.1M552.66 241.55L551.39 241.1L552.61 240.54M556.78 236.09L549.61 237.29M551.38 237.68L549.61 237.29L551.16 236.34M556.78 231.32L551.03 231.6M552.39 232.08L551.03 231.6L552.33 231M556.78 226.55L549.48 226.22M551.14 226.98L549.48 226.22L551.2 225.61M564.13 245.63L558.55 245.94M559.88 246.39L558.55 245.94L559.82 245.34M564.13 240.86L556.95 241.13M558.64 241.74L556.95 241.13L558.59 240.39M564.13 236.09L558.09 237.07M559.59 237.41L558.09 237.07L559.4 236.27M564.13 231.32L556.8 232.04M558.57 232.56L556.8 232.04L558.43 231.19M564.13 226.55L557.82 226.72M559.3 227.27L557.82 226.72L559.27 226.09M571.48 240.86L565.33 240.81M566.75 241.4L565.33 240.81L566.76 240.24M571.48 236.09L565.66 237.21M567.12 237.5L565.66 237.21L566.91 236.41M571.48 231.32L564.72 231.39M566.3 232L564.72 231.39L566.28 230.74M571.48 226.55L564.1 226.42M565.8 227.14L564.1 226.42L565.82 225.76M578.84 240.86L571.33 240.4M573.03 241.21L571.33 240.4L573.11 239.8M578.84 236.09L572.29 236.48M573.84 237L572.29 236.48L573.77 235.78M578.84 231.32L573.11 231.96M574.5 232.35L573.11 231.96L574.38 231.28M578.84 226.55L572.19 227.69M573.83 228.05L572.19 227.69L573.62 226.8M578.84 221.78L571.94 222.81M573.63 223.21L571.94 222.81L573.44 221.92M586.19 240.86L579.71 240.35M581.16 241.08L579.71 240.35L581.26 239.86M586.19 236.09L580.63 237.11M582.01 237.39L580.63 237.11L581.82 236.35M586.19 231.32L579.79 232.17M581.35 232.57L579.79 232.17L581.2 231.37M586.19 226.55L579.2 227.79M580.94 228.16L579.2 227.79L580.71 226.85M586.19 221.78L578.86 221.32M580.52 222.11L578.86 221.32L580.6 220.74M593.54 240.86L586.27 241.39M588 241.94L586.27 241.39L587.9 240.58M593.54 236.09L587.44 236.07M588.85 236.65L587.44 236.07L588.86 235.5M593.54 231.32L586.9 231.59M588.46 232.15L586.9 231.59L588.41 230.9M593.54 226.55L587.3 226.7M588.76 227.25L587.3 226.7L588.73 226.08M593.54 221.78L586.56 221.21M588.13 222L586.56 221.21L588.23 220.69M600.9 240.86L593.49 241.88M595.3 242.34L593.49 241.88L595.11 240.95M600.9 236.09L594.81 236.34M596.24 236.85L594.81 236.34L596.2 235.71M600.9 231.32L594.14 231.66M595.74 232.22L594.14 231.66L595.67 230.95M600.9 226.55L595.03 227.25M596.45 227.64L595.03 227.25L596.32 226.54M600.9 221.78L594.7 221.88M596.15 222.44L594.7 221.88L596.13 221.28M608.25 240.86L600.8 240.31M602.47 241.14L600.8 240.31L602.58 239.74M608.25 236.09L601 235.31M602.61 236.17L601 235.31L602.75 234.81M608.25 231.32L600.69 231.18M602.43 231.92L600.69 231.18L602.45 230.5M608.25 226.55L601.09 227.51M602.84 227.96L601.09 227.51L602.66 226.61M608.25 221.78L601.38 221.64M602.96 222.31L601.38 221.64L602.98 221.03M608.25 217.01L602.33 216.97M603.69 217.53L602.33 216.97L603.7 216.42M615.6 240.86L608.41 241.14M610.1 241.74L608.41 241.14L610.05 240.4M615.6 236.09L609.07 236.56M610.63 237.06L609.07 236.56L610.54 235.84M615.6 231.32L609.76 230.7M611.05 231.39L609.76 230.7L611.17 230.3M615.6 226.55L610.45 226.96M611.68 227.35L610.45 226.96L611.61 226.38M615.6 221.78L609.01 221.8M610.54 222.41L609.01 221.8L610.54 221.18M615.6 217.01L610.36 216.72M611.55 217.27L610.36 216.72L611.6 216.29M622.95 240.86L617.21 240.81M618.54 241.36L617.21 240.81L618.54 240.29M622.95 236.09L617.07 236M618.43 236.57L617.07 236L618.44 235.47M622.95 231.32L616.71 231.36M618.16 231.94L616.71 231.36L618.15 230.77M622.95 226.55L617.67 226.86M618.92 227.28L617.67 226.86L618.87 226.29M622.95 221.78L615.95 221.46M617.54 222.19L615.95 221.46L617.6 220.88M622.95 217.01L617.72 216.31M618.87 216.96L617.72 216.31L619 215.98M622.95 212.24L617.45 212.71M618.77 213.12L617.45 212.71L618.68 212.09M630.31 240.86L624.38 241.26M625.79 241.73L624.38 241.26L625.71 240.62M630.31 236.09L624.39 235.88M625.74 236.48L624.39 235.88L625.78 235.38M630.31 231.32L624.87 231.04M626.1 231.61L624.87 231.04L626.16 230.6M630.31 226.55L625.05 226.35M626.25 226.89L625.05 226.35L626.28 225.9M630.31 221.78L624 222.3M625.51 222.77L624 222.3L625.41 221.59M630.31 217.01L624.44 217.49M625.85 217.93L624.44 217.49L625.76 216.83M637.66 236.09L632.14 235.35M633.35 236.04L632.14 235.35L633.49 235M637.66 231.32L631.89 230.71M633.17 231.39L631.89 230.71L633.28 230.31M637.66 226.55L631.46 226.88M632.93 227.38L631.46 226.88L632.87 226.22M637.66 221.78L631.15 220.95M632.58 221.75L631.15 220.95L632.74 220.53M637.66 217.01L633.1 216.23M634.08 216.84L633.1 216.23L634.23 215.98M645.01 231.32L640 231.39M641.17 231.85L640 231.39L641.15 230.91M645.01 226.55L639.2 225.84M640.48 226.55L639.2 225.84L640.61 225.46M645.01 221.78L639.68 221.65M640.9 222.18L639.68 221.65L640.93 221.18M645.01 217.01L639.74 216.96M640.96 217.46L639.74 216.96L640.97 216.48M645.01 212.24L640.67 211.83M641.64 212.33L640.67 211.83L641.71 211.52" stroke="#0a0aff" stroke-width="0.5" stroke-opacity="0.6" fill="none" stroke-linecap="round"/>
<polyline points="389.5,253.5 389.5,252.5 389.5,251.5 389.5,250.5 389.5,249.5 390.5,249.5 391.5,248.5 392.5,248.5 393.5,247.5 394.5,247.5 395.5,247.5 396.5,247.5 397.5,246.5 398.5,247.5 398.5,246.5 399.5,246.5 399.5,245.5 400.5,244.5 400.5,243.5 401.5,242.5 402.5,242.5 403.5,241.5 403.5,240.5 403.5,239.5 403.5,238.5 404.5,236.5 405.5,235.5 406.5,234.5 407.5,234.5 408.5,233.5 409.5,233.5 410.5,232.5 411.5,232.5 412.5,232.5 413.5,232.5 414.5,231.5 415.5,232.5 416.5,232.5 417.5,232.5 418.5,233.5 419.5,232.5 420.5,232.5 421.5,231.5 422.5,230.5 423.5,230.5 424.5,229.5 425.5,229.5 425.5,228.5 426.5,228.5 427.5,227.5 428.5,226.5 429.5,225.5 430.5,225.5 430.5,224.5 431.5,224.5 432.5,224.5 433.5,223.5 434.5,223.5 435.5,223.5 436.5,222.5 437.5,222.5 438.5,221.5 439.5,221.5 439.5,220.5 440.5,220.5 441.5,219.5 441.5,218.5 441.5,217.5 442.5,216.5 443.5,215.5 444.5,215.5 445.5,214.5 446.5,214.5 447.5,213.5 448.5,213.5 449.5,212.5 451.5,212.5 452.5,212.5 453.5,211.5 454.5,211.5 455.5,211.5 456.5,211.5 457.5,210.5 458.5,210.5 458.5,209.5 459.5,209.5 461.5,209.5 462.5,209.5 463.5,209.5 464.5,209.5 465.5,210.5 466.5,210.5 467.5,210.5 468.5,210.5 469.5,211.5 470.5,210.5 470.5,211.5 471.5,211.5 472.5,211.5 473.5,211.5 474.5,211.5 475.5,211.5 476.5,210.5 477.5,210.5 478.5,210.5 479.5,210.5 480.5,209.5 481.5,210.5 482.5,209.5 483.5,210.5 483.5,209.5 484.5,208.5 485.5,208.5 486.5,208.5 487.5,208.5 488.5,208.5 489.5,208.5 490.5,208.5 491.5,208.5 492.5,208.5 493.5,208.5 494.5,207.5 495.5,207.5 497.5,207.5 498.5,207.5 499.5,207.5 500.5,208.5 501.5,208.5 502.5,208.5 503.5,208.5 504.5,208.5 505.5,208.5 506.5,208.5 507.5,208.5 508.5,208.5 509.5,208.5 510.5,208.5 511.5,208.5 511.5,209.5 512.5,208.5 514.5,209.5 515.5,209.5 515.5,210.5 516.5,210.5 517.5,209.5 518.5,210.5 519.5,210.5 520.5,210.5 521.5,210.5 522.5,210.5 523.5,210.5 524.5,211.5 525.5,211.5 526.5,212.5 527.5,213.5 527.5,214.5 528.5,214.5 528.5,215.5 529.5,216.5 530.5,216.5 530.5,217.5 531.5,216.5 532.5,215.5 533.5,214.5 534.5,214.5 535.5,214.5 536.5,215.5 537.5,216.5 538.5,216.5 539.5,217.5 540.5,216.5 541.5,215.5 542.5,215.5 543.5,215.5 543.5,216.5 544.5,217.5 545.5,217.5 546.5,218.5 546.5,219.5 547.5,220.5 548.5,220.5 549.5,221.5 550.5,220.5 551.5,220.5 551.5,221.5 552.5,221.5 553.5,220.5 554.5,220.5 555.5,220.5 556.5,220.5 557.5,221.5 558.5,222.5 559.5,222.5 560.5,223.5 561.5,223.5 562.5,222.5 563.5,223.5 564.5,222.5 565.5,222.5 565.5,221.5 565.5,220.5 566.5,219.5 567.5,219.5 568.5,219.5 568.5,220.5 569.5,221.5 569.5,220.5 570.5,220.5 571.5,220.5 572.5,220.5 573.5,220.5 574.5,219.5 575.5,219.5 576.5,219.5 577.5,218.5 578.5,218.5 578.5,217.5 579.5,217.5 580.5,217.5 581.5,217.5 582.5,218.5 583.5,218.5 584.5,218.5 585.5,218.5 586.5,217.5 587.5,217.5 588.5,217.5 589.5,217.5 590.5,217.5 591.5,217.5 592.5,216.5 593.5,217.5 594.5,216.5 595.5,216.5 596.5,216.5 598.5,216.5 599.5,215.5 600.5,215.5 601.5,215.5 602.5,215.5 603.5,214.5 604.5,214.5 605.5,214.5 606.5,214.5 607.5,214.5 608.5,214.5 609.5,213.5 610.5,213.5 612.5,213.5 613.5,213.5 614.5,213.5 615.5,213.5 615.5,212.5 616.5,212.5 617.5,211.5 618.5,211.5 619.5,211.5 620.5,210.5 621.5,209.5 622.5,208.5 623.5,208.5 624.5,209.5 624.5,210.5 625.5,211.5 626.5,211.5 627.5,212.5 627.5,211.5 628.5,211.5 629.5,211.5 630.5,211.5 631.5,211.5 632.5,211.5 633.5,211.5 634.5,211.5 635.5,211.5 636.5,210.5 637.5,211.5 637.5,210.5 638.5,210.5 639.5,210.5 640.5,210.5 641.5,210.5 642.5,209.5 643.5,209.5 644.5,208.5 645.5,208.5 645.5,207.5 646.5,206.5 647.5,206.5 648.5,205.5 649.5,204.5 650.5,204.5 650.5,203.5 651.5,203.5 652.5,202.5 653.5,202.5 654.5,202.5 655.5,201.5 656.5,201.5 657.5,201.5 658.5,201.5 658.5,200.5 659.5,200.5" stroke="#303030" stroke-width="1.05" fill="none" stroke-linejoin="round"/>
<polyline points="497.5,277.5 496.5,277.5 496.5,276.5 495.5,276.5 494.5,275.5 493.5,275.5 492.5,275.5 491.5,274.5 490.5,274.5 489.5,272.5 490.5,272.5 491.5,271.5 492.5,270.5 493.5,269.5 494.5,268.5 495.5,268.5 495.5,267.5 497.5,267.5 498.5,267.5 499.5,268.5 500.5,268.5 501.5,268.5 502.5,268.5 503.5,268.5 504.5,268.5 505.5,267.5 506.5,266.5 507.5,266.5 508.5,265.5 509.5,265.5 510.5,264.5 511.5,264.5 512.5,264.5 513.5,263.5 514.5,263.5 515.5,263.5 516.5,261.5 516.5,260.5 516.5,259.5 516.5,258.5 517.5,258.5 517.5,257.5 517.5,256.5 518.5,255.5 518.5,254.5 519.5,253.5 520.5,252.5 521.5,251.5 522.5,251.5 523.5,251.5 524.5,251.5 525.5,251.5 526.5,251.5 527.5,251.5 528.5,251.5 529.5,252.5 530.5,252.5 531.5,253.5 531.5,254.5 533.5,254.5 533.5,253.5 534.5,253.5 535.5,253.5 535.5,252.5 536.5,252.5 537.5,251.5 538.5,251.5 539.5,251.5 540.5,252.5 541.5,251.5 542.5,251.5 543.5,251.5 544.5,251.5 545.5,250.5 546.5,250.5 547.5,250.5 549.5,249.5 549.5,250.5 550.5,250.5 551.5,250.5 553.5,251.5 553.5,250.5 554.5,250.5 555.5,249.5 556.5,250.5 557.5,250.5 558.5,249.5 558.5,250.5 559.5,249.5 560.5,249.5 561.5,249.5 562.5,249.5 563.5,249.5 564.5,248.5 565.5,248.5 566.5,248.5 566.5,247.5 568.5,247.5 569.5,247.5 569.5,246.5 570.5,247.5 571.5,246.5 572.5,246.5 573.5,246.5 574.5,246.5 575.5,246.5 576.5,246.5 577.5,245.5 578.5,246.5 579.5,245.5 580.5,246.5 581.5,245.5 582.5,246.5 583.5,246.5 584.5,246.5 585.5,246.5 586.5,246.5 587.5,246.5 588.5,247.5 590.5,247.5 590.5,246.5 591.5,246.5 592.5,246.5 593.5,246.5 594.5,245.5 595.5,245.5 596.5,246.5 597.5,245.5 597.5,246.5 598.5,245.5 599.5,246.5 600.5,246.5 601.5,245.5 602.5,245.5 603.5,245.5 604.5,245.5 605.5,245.5 606.5,244.5 607.5,245.5 608.5,245.5 609.5,244.5 610.5,244.5 611.5,244.5 612.5,244.5 613.5,243.5 614.5,244.5 615.5,244.5 616.5,244.5 617.5,245.5 618.5,245.5 619.5,245.5 620.5,245.5 620.5,244.5 621.5,243.5 622.5,242.5 623.5,242.5 624.5,242.5 625.5,242.5 626.5,241.5 627.5,242.5 628.5,242.5 629.5,243.5 630.5,243.5 631.5,242.5 632.5,242.5 633.5,241.5 634.5,241.5 635.5,240.5 636.5,240.5 637.5,240.5 638.5,240.5 639.5,239.5 640.5,239.5 640.5,238.5 641.5,238.5 642.5,237.5 643.5,237.5 644.5,236.5 645.5,236.5 646.5,236.5 647.5,236.5 648.5,236.5 648.5,235.5 649.5,236.5 650.5,235.5 651.5,235.5 652.5,235.5 653.5,235.5 653.5,234.5 654.5,234.5 655.5,233.5 656.5,233.5 657.5,232.5 658.5,232.5" stroke="#303030" stroke-width="1.05" fill="none" stroke-linejoin="round"/>
<path d="M491.3 237.8L440.66 230.91" stroke="#111" stroke-width="1.8" fill="none"/><path d="M436.2 230.3L441.99 228.56L441.31 233.52Z" fill="#111"/>
<text x="379.1" y="198.8" text-anchor="end" font-size="9.3" fill="#000">-1.06</text>
<text x="379.1" y="229.83" text-anchor="end" font-size="9.3" fill="#000">-1.08</text>
<text x="379.1" y="260.85" text-anchor="end" font-size="9.3" fill="#000">-1.1</text>
<text x="379.1" y="291.88" text-anchor="end" font-size="9.3" fill="#000">-1.12</text>
<text x="379.1" y="322.9" text-anchor="end" font-size="9.3" fill="#000">-1.14</text>
<text x="382.3" y="331.5" text-anchor="middle" font-size="9.3" fill="#000">-10.4</text>
<text x="418.73" y="331.5" text-anchor="middle" font-size="9.3" fill="#000">-10.2</text>
<text x="455.15" y="331.5" text-anchor="middle" font-size="9.3" fill="#000">-10</text>
<text x="491.58" y="331.5" text-anchor="middle" font-size="9.3" fill="#000">-9.8</text>
<text x="528" y="331.5" text-anchor="middle" font-size="9.3" fill="#000">-9.6</text>
<text x="564.43" y="331.5" text-anchor="middle" font-size="9.3" fill="#000">-9.4</text>
<text x="600.85" y="331.5" text-anchor="middle" font-size="9.3" fill="#000">-9.2</text>
<text x="637.28" y="331.5" text-anchor="middle" font-size="9.3" fill="#000">-9</text>
<text x="673.7" y="331.5" text-anchor="middle" font-size="9.3" fill="#000">-8.8</text>
<text x="528" y="343.4" text-anchor="middle" font-size="10.6" fill="#111">x [m]</text>
<text transform="translate(356.5 256.95) rotate(-90)" text-anchor="middle" font-size="10.6" fill="#111">y [m]</text>
<text x="382.6" y="194.2" font-size="13" fill="#666">×</text><text x="390.9" y="192.8" font-size="9.6" fill="#333">10</text><text x="400.2" y="188.5" font-size="7.2" fill="#333">5</text>
<text x="652.5" y="347" font-size="13" fill="#666">×</text><text x="660.8" y="345.6" font-size="9.6" fill="#333">10</text><text x="670.1" y="341.3" font-size="7.2" fill="#333">4</text>
<text x="482.4" y="359.4" font-size="12.2" fill="#111" textLength="73" lengthAdjust="spacing">(d) 13 h – 14 h</text>
</svg>
</body></html>
